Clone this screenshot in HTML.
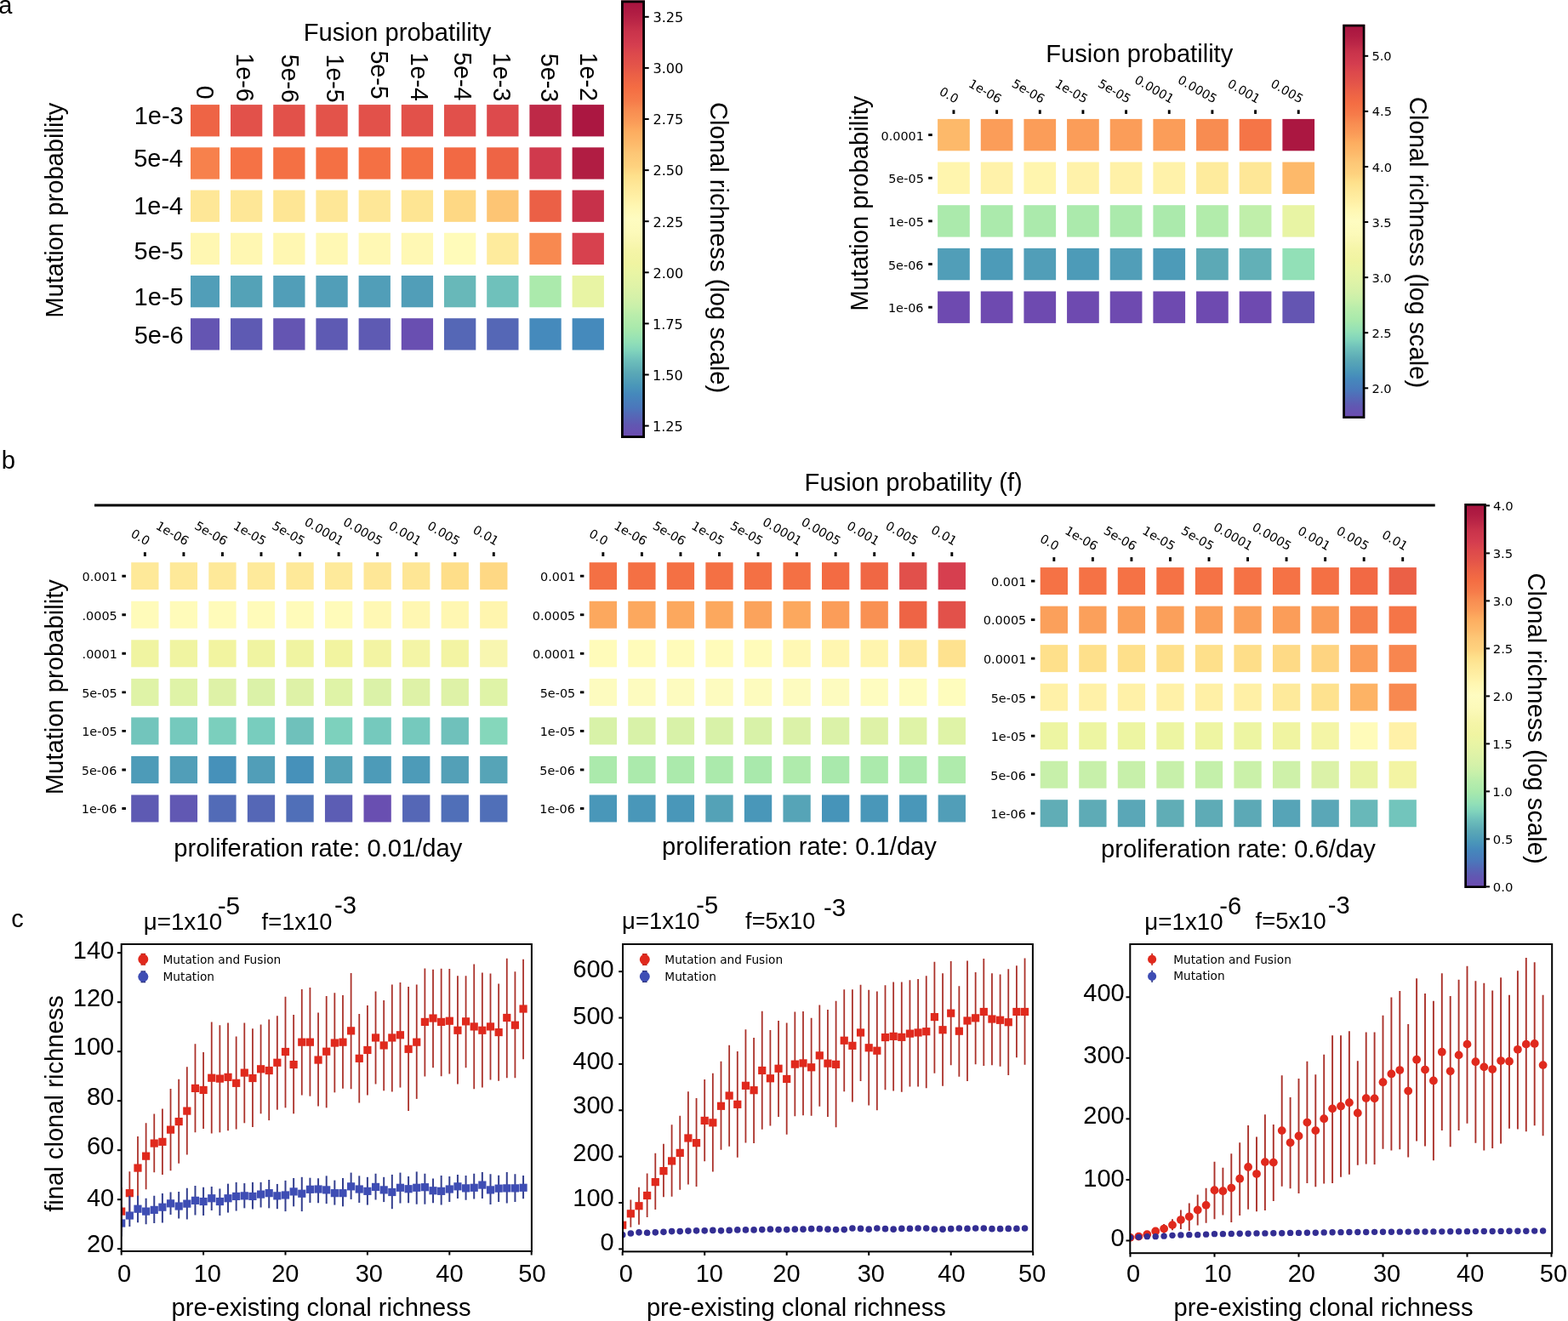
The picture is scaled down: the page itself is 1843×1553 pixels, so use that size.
<!DOCTYPE html>
<html><head><meta charset="utf-8"><title>Figure</title>
<style>html,body{margin:0;padding:0;background:#fff;}svg{display:block;}</style></head>
<body><svg width="1843" height="1553" viewBox="0 0 1843 1553"><defs><linearGradient id="cb" x1="0" y1="0" x2="0" y2="1"><stop offset="0" stop-color="#a6133f"/><stop offset="0.03" stop-color="#b11d43"/><stop offset="0.05" stop-color="#bc2747"/><stop offset="0.07" stop-color="#c9334b"/><stop offset="0.1" stop-color="#d43d4f"/><stop offset="0.12" stop-color="#dc484c"/><stop offset="0.15" stop-color="#e45549"/><stop offset="0.17" stop-color="#eb6046"/><stop offset="0.2" stop-color="#f46d43"/><stop offset="0.23" stop-color="#f67c4a"/><stop offset="0.25" stop-color="#f88c51"/><stop offset="0.28" stop-color="#fb9d59"/><stop offset="0.3" stop-color="#fdad60"/><stop offset="0.33" stop-color="#fdbb6c"/><stop offset="0.35" stop-color="#fdc776"/><stop offset="0.38" stop-color="#fed27f"/><stop offset="0.4" stop-color="#fee08b"/><stop offset="0.42" stop-color="#fee797"/><stop offset="0.45" stop-color="#fff0a6"/><stop offset="0.47" stop-color="#fff7b2"/><stop offset="0.5" stop-color="#fefcc1"/><stop offset="0.53" stop-color="#fcfaba"/><stop offset="0.55" stop-color="#f9f7b2"/><stop offset="0.57" stop-color="#f5f5a8"/><stop offset="0.6" stop-color="#f0f4a1"/><stop offset="0.62" stop-color="#eaf5a4"/><stop offset="0.65" stop-color="#e0f3a7"/><stop offset="0.68" stop-color="#d4f1a9"/><stop offset="0.7" stop-color="#c8f0aa"/><stop offset="0.72" stop-color="#b9edab"/><stop offset="0.75" stop-color="#a8e9ac"/><stop offset="0.78" stop-color="#92e0b7"/><stop offset="0.8" stop-color="#81d4bc"/><stop offset="0.82" stop-color="#6fc1bb"/><stop offset="0.85" stop-color="#5ba9b6"/><stop offset="0.88" stop-color="#4a97b9"/><stop offset="0.9" stop-color="#4588bc"/><stop offset="0.93" stop-color="#4b77bb"/><stop offset="0.95" stop-color="#5666b6"/><stop offset="0.97" stop-color="#6157b2"/><stop offset="1" stop-color="#6e4ab0"/></linearGradient><clipPath id="cl1"><rect x="97.2" y="600" width="2000" height="500"/></clipPath><clipPath id="p1"><rect x="142.7" y="1110" width="482.2" height="361"/></clipPath><clipPath id="p2"><rect x="732" y="1110" width="481.9" height="361.4"/></clipPath><clipPath id="p3"><rect x="1328.3" y="1110" width="495.9" height="363.2"/></clipPath></defs><rect width="1843" height="1553" fill="#fff"/>
<text x="-1.87" y="16" font-family="'Liberation Sans', Arial, sans-serif" font-size="29" fill="#000">a</text>
<text x="356.72" y="48.4" font-family="'Liberation Sans', Arial, sans-serif" font-size="29.2" fill="#000">Fusion probatility</text>
<rect x="224" y="123.1" width="34" height="37.3" fill="#ee6445"/>
<rect x="271" y="123.1" width="37.3" height="37.3" fill="#e2514a"/>
<rect x="321.2" y="123.1" width="37.3" height="37.3" fill="#e2514a"/>
<rect x="371.4" y="123.1" width="37.3" height="37.3" fill="#e3534a"/>
<rect x="421.6" y="123.1" width="37.3" height="37.3" fill="#e2514a"/>
<rect x="471.8" y="123.1" width="37.3" height="37.3" fill="#e2514a"/>
<rect x="522" y="123.1" width="37.3" height="37.3" fill="#e1504b"/>
<rect x="572.2" y="123.1" width="37.3" height="37.3" fill="#dd4a4c"/>
<rect x="622.4" y="123.1" width="37.3" height="37.3" fill="#be2947"/>
<rect x="672.6" y="123.1" width="37.3" height="37.3" fill="#ab1741"/>
<rect x="224" y="173.32" width="34" height="37.3" fill="#f7814c"/>
<rect x="271" y="173.32" width="37.3" height="37.3" fill="#f57245"/>
<rect x="321.2" y="173.32" width="37.3" height="37.3" fill="#f47044"/>
<rect x="371.4" y="173.32" width="37.3" height="37.3" fill="#f47044"/>
<rect x="421.6" y="173.32" width="37.3" height="37.3" fill="#f47044"/>
<rect x="471.8" y="173.32" width="37.3" height="37.3" fill="#f47044"/>
<rect x="522" y="173.32" width="37.3" height="37.3" fill="#f26944"/>
<rect x="572.2" y="173.32" width="37.3" height="37.3" fill="#ee6445"/>
<rect x="622.4" y="173.32" width="37.3" height="37.3" fill="#d03a4d"/>
<rect x="672.6" y="173.32" width="37.3" height="37.3" fill="#b11d43"/>
<rect x="224" y="223.54" width="34" height="37.3" fill="#fee797"/>
<rect x="271" y="223.54" width="37.3" height="37.3" fill="#fee797"/>
<rect x="321.2" y="223.54" width="37.3" height="37.3" fill="#fee695"/>
<rect x="371.4" y="223.54" width="37.3" height="37.3" fill="#fee797"/>
<rect x="421.6" y="223.54" width="37.3" height="37.3" fill="#fee797"/>
<rect x="471.8" y="223.54" width="37.3" height="37.3" fill="#fee593"/>
<rect x="522" y="223.54" width="37.3" height="37.3" fill="#fed884"/>
<rect x="572.2" y="223.54" width="37.3" height="37.3" fill="#fdc574"/>
<rect x="622.4" y="223.54" width="37.3" height="37.3" fill="#eb6046"/>
<rect x="672.6" y="223.54" width="37.3" height="37.3" fill="#c7314a"/>
<rect x="224" y="273.76" width="34" height="37.3" fill="#fff7b2"/>
<rect x="271" y="273.76" width="37.3" height="37.3" fill="#fff7b2"/>
<rect x="321.2" y="273.76" width="37.3" height="37.3" fill="#fff7b2"/>
<rect x="371.4" y="273.76" width="37.3" height="37.3" fill="#fff8b4"/>
<rect x="421.6" y="273.76" width="37.3" height="37.3" fill="#fff8b4"/>
<rect x="471.8" y="273.76" width="37.3" height="37.3" fill="#fff8b4"/>
<rect x="522" y="273.76" width="37.3" height="37.3" fill="#fffbba"/>
<rect x="572.2" y="273.76" width="37.3" height="37.3" fill="#feeb9d"/>
<rect x="622.4" y="273.76" width="37.3" height="37.3" fill="#f88950"/>
<rect x="672.6" y="273.76" width="37.3" height="37.3" fill="#d7414e"/>
<rect x="224" y="323.98" width="34" height="37.3" fill="#519eb8"/>
<rect x="271" y="323.98" width="37.3" height="37.3" fill="#54a2b7"/>
<rect x="321.2" y="323.98" width="37.3" height="37.3" fill="#519eb8"/>
<rect x="371.4" y="323.98" width="37.3" height="37.3" fill="#519eb8"/>
<rect x="421.6" y="323.98" width="37.3" height="37.3" fill="#519eb8"/>
<rect x="471.8" y="323.98" width="37.3" height="37.3" fill="#519eb8"/>
<rect x="522" y="323.98" width="37.3" height="37.3" fill="#68b8b9"/>
<rect x="572.2" y="323.98" width="37.3" height="37.3" fill="#6fc1bb"/>
<rect x="622.4" y="323.98" width="37.3" height="37.3" fill="#abeaac"/>
<rect x="672.6" y="323.98" width="37.3" height="37.3" fill="#e8f4a4"/>
<rect x="224" y="374.2" width="34" height="37.3" fill="#6455b2"/>
<rect x="271" y="374.2" width="37.3" height="37.3" fill="#5e5ab3"/>
<rect x="321.2" y="374.2" width="37.3" height="37.3" fill="#6455b2"/>
<rect x="371.4" y="374.2" width="37.3" height="37.3" fill="#5e5ab3"/>
<rect x="421.6" y="374.2" width="37.3" height="37.3" fill="#5e5ab3"/>
<rect x="471.8" y="374.2" width="37.3" height="37.3" fill="#694fb1"/>
<rect x="522" y="374.2" width="37.3" height="37.3" fill="#5567b6"/>
<rect x="572.2" y="374.2" width="37.3" height="37.3" fill="#5567b6"/>
<rect x="622.4" y="374.2" width="37.3" height="37.3" fill="#458abc"/>
<rect x="672.6" y="374.2" width="37.3" height="37.3" fill="#458abc"/>
<text x="157.65" y="145.88" font-family="'Liberation Sans', Arial, sans-serif" font-size="29" fill="#000">1e-3</text>
<text x="157.21" y="196.03" font-family="'Liberation Sans', Arial, sans-serif" font-size="29" fill="#000">5e-4</text>
<text x="157.21" y="251.53" font-family="'Liberation Sans', Arial, sans-serif" font-size="29" fill="#000">1e-4</text>
<text x="157.59" y="304.53" font-family="'Liberation Sans', Arial, sans-serif" font-size="29" fill="#000">5e-5</text>
<text x="157.59" y="358.63" font-family="'Liberation Sans', Arial, sans-serif" font-size="29" fill="#000">1e-5</text>
<text x="157.65" y="403.58" font-family="'Liberation Sans', Arial, sans-serif" font-size="29" fill="#000">5e-6</text>
<text x="230.51" y="100.65" font-family="'Liberation Sans', Arial, sans-serif" font-size="28.6" fill="#000" transform="rotate(90 230.51 100.65)">0</text>
<text x="277.96" y="62.43" font-family="'Liberation Sans', Arial, sans-serif" font-size="28.6" fill="#000" transform="rotate(90 277.96 62.43)">1e-6</text>
<text x="330.61" y="63.79" font-family="'Liberation Sans', Arial, sans-serif" font-size="28.6" fill="#000" transform="rotate(90 330.61 63.79)">5e-6</text>
<text x="383.65" y="63.5" font-family="'Liberation Sans', Arial, sans-serif" font-size="28.6" fill="#000" transform="rotate(90 383.65 63.5)">1e-5</text>
<text x="435.8" y="59.41" font-family="'Liberation Sans', Arial, sans-serif" font-size="28.6" fill="#000" transform="rotate(90 435.8 59.41)">5e-5</text>
<text x="482.75" y="61.66" font-family="'Liberation Sans', Arial, sans-serif" font-size="28.6" fill="#000" transform="rotate(90 482.75 61.66)">1e-4</text>
<text x="533.75" y="61.13" font-family="'Liberation Sans', Arial, sans-serif" font-size="28.6" fill="#000" transform="rotate(90 533.75 61.13)">5e-4</text>
<text x="580.26" y="61.88" font-family="'Liberation Sans', Arial, sans-serif" font-size="28.6" fill="#000" transform="rotate(90 580.26 61.88)">1e-3</text>
<text x="636.11" y="62.84" font-family="'Liberation Sans', Arial, sans-serif" font-size="28.6" fill="#000" transform="rotate(90 636.11 62.84)">5e-3</text>
<text x="682.21" y="61.71" font-family="'Liberation Sans', Arial, sans-serif" font-size="28.6" fill="#000" transform="rotate(90 682.21 61.71)">1e-2</text>
<text x="73.55" y="373.86" font-family="'Liberation Sans', Arial, sans-serif" font-size="29.2" fill="#000" transform="rotate(-90 73.55 373.86)">Mutation probability</text>
<rect x="730" y="0.5" width="28" height="514.5" fill="url(#cb)"/>
<rect x="731.4" y="1.9" width="25.2" height="511.7" fill="none" stroke="#000" stroke-width="2.8"/>
<line x1="758" y1="19.8" x2="762.7" y2="19.8" stroke="#000" stroke-width="2"/>
<text x="767.48" y="26.16" font-family="'DejaVu Sans', sans-serif" font-size="16.1" fill="#000">3.25</text>
<line x1="758" y1="79.9" x2="762.7" y2="79.9" stroke="#000" stroke-width="2"/>
<text x="767.48" y="86.26" font-family="'DejaVu Sans', sans-serif" font-size="16.1" fill="#000">3.00</text>
<line x1="758" y1="140" x2="762.7" y2="140" stroke="#000" stroke-width="2"/>
<text x="767.52" y="146.36" font-family="'DejaVu Sans', sans-serif" font-size="16.1" fill="#000">2.75</text>
<line x1="758" y1="200.1" x2="762.7" y2="200.1" stroke="#000" stroke-width="2"/>
<text x="767.52" y="206.46" font-family="'DejaVu Sans', sans-serif" font-size="16.1" fill="#000">2.50</text>
<line x1="758" y1="260.2" x2="762.7" y2="260.2" stroke="#000" stroke-width="2"/>
<text x="767.52" y="266.56" font-family="'DejaVu Sans', sans-serif" font-size="16.1" fill="#000">2.25</text>
<line x1="758" y1="320.3" x2="762.7" y2="320.3" stroke="#000" stroke-width="2"/>
<text x="767.52" y="326.66" font-family="'DejaVu Sans', sans-serif" font-size="16.1" fill="#000">2.00</text>
<line x1="758" y1="380.4" x2="762.7" y2="380.4" stroke="#000" stroke-width="2"/>
<text x="766.93" y="386.66" font-family="'DejaVu Sans', sans-serif" font-size="16.1" fill="#000">1.75</text>
<line x1="758" y1="440.5" x2="762.7" y2="440.5" stroke="#000" stroke-width="2"/>
<text x="766.93" y="446.86" font-family="'DejaVu Sans', sans-serif" font-size="16.1" fill="#000">1.50</text>
<line x1="758" y1="500.6" x2="762.7" y2="500.6" stroke="#000" stroke-width="2"/>
<text x="766.93" y="506.96" font-family="'DejaVu Sans', sans-serif" font-size="16.1" fill="#000">1.25</text>
<text x="834.5" y="120" font-family="'Liberation Sans', Arial, sans-serif" font-size="29.2" fill="#000" transform="rotate(90 834.5 120)">Clonal richness (log scale)</text>
<text x="1229.3" y="72.6" font-family="'Liberation Sans', Arial, sans-serif" font-size="29.1" fill="#000">Fusion probatility</text>
<text x="1019.65" y="365.71" font-family="'Liberation Sans', Arial, sans-serif" font-size="29.2" fill="#000" transform="rotate(-90 1019.65 365.71)">Mutation probability</text>
<rect x="1102.1" y="139.9" width="37.7" height="37.4" fill="#fdb96a"/>
<rect x="1152.76" y="139.9" width="37.7" height="37.4" fill="#fb9d59"/>
<rect x="1203.42" y="139.9" width="37.7" height="37.4" fill="#fb9d59"/>
<rect x="1254.08" y="139.9" width="37.7" height="37.4" fill="#fb9d59"/>
<rect x="1304.74" y="139.9" width="37.7" height="37.4" fill="#fb9d59"/>
<rect x="1355.4" y="139.9" width="37.7" height="37.4" fill="#fb9d59"/>
<rect x="1406.06" y="139.9" width="37.7" height="37.4" fill="#f88c51"/>
<rect x="1456.72" y="139.9" width="37.7" height="37.4" fill="#f57547"/>
<rect x="1507.38" y="139.9" width="37.7" height="37.4" fill="#ab1741"/>
<rect x="1102.1" y="190.55" width="37.7" height="37.4" fill="#fff5ae"/>
<rect x="1152.76" y="190.55" width="37.7" height="37.4" fill="#fff2aa"/>
<rect x="1203.42" y="190.55" width="37.7" height="37.4" fill="#fff5ae"/>
<rect x="1254.08" y="190.55" width="37.7" height="37.4" fill="#fff2aa"/>
<rect x="1304.74" y="190.55" width="37.7" height="37.4" fill="#fff1a8"/>
<rect x="1355.4" y="190.55" width="37.7" height="37.4" fill="#fff2aa"/>
<rect x="1406.06" y="190.55" width="37.7" height="37.4" fill="#feeb9d"/>
<rect x="1456.72" y="190.55" width="37.7" height="37.4" fill="#fee797"/>
<rect x="1507.38" y="190.55" width="37.7" height="37.4" fill="#fdb96a"/>
<rect x="1102.1" y="241.2" width="37.7" height="37.4" fill="#abeaac"/>
<rect x="1152.76" y="241.2" width="37.7" height="37.4" fill="#abeaac"/>
<rect x="1203.42" y="241.2" width="37.7" height="37.4" fill="#abeaac"/>
<rect x="1254.08" y="241.2" width="37.7" height="37.4" fill="#abeaac"/>
<rect x="1304.74" y="241.2" width="37.7" height="37.4" fill="#abeaac"/>
<rect x="1355.4" y="241.2" width="37.7" height="37.4" fill="#abeaac"/>
<rect x="1406.06" y="241.2" width="37.7" height="37.4" fill="#b2ecab"/>
<rect x="1456.72" y="241.2" width="37.7" height="37.4" fill="#c0efaa"/>
<rect x="1507.38" y="241.2" width="37.7" height="37.4" fill="#e8f4a4"/>
<rect x="1102.1" y="291.85" width="37.7" height="37.4" fill="#519eb8"/>
<rect x="1152.76" y="291.85" width="37.7" height="37.4" fill="#4d9bb8"/>
<rect x="1203.42" y="291.85" width="37.7" height="37.4" fill="#519eb8"/>
<rect x="1254.08" y="291.85" width="37.7" height="37.4" fill="#4d9bb8"/>
<rect x="1304.74" y="291.85" width="37.7" height="37.4" fill="#519eb8"/>
<rect x="1355.4" y="291.85" width="37.7" height="37.4" fill="#4d9bb8"/>
<rect x="1406.06" y="291.85" width="37.7" height="37.4" fill="#5ca9b6"/>
<rect x="1456.72" y="291.85" width="37.7" height="37.4" fill="#62b0b7"/>
<rect x="1507.38" y="291.85" width="37.7" height="37.4" fill="#92e0b7"/>
<rect x="1102.1" y="342.5" width="37.7" height="37.4" fill="#6e4ab0"/>
<rect x="1152.76" y="342.5" width="37.7" height="37.4" fill="#6e4ab0"/>
<rect x="1203.42" y="342.5" width="37.7" height="37.4" fill="#6e4ab0"/>
<rect x="1254.08" y="342.5" width="37.7" height="37.4" fill="#6e4ab0"/>
<rect x="1304.74" y="342.5" width="37.7" height="37.4" fill="#6e4ab0"/>
<rect x="1355.4" y="342.5" width="37.7" height="37.4" fill="#6e4ab0"/>
<rect x="1406.06" y="342.5" width="37.7" height="37.4" fill="#6e4ab0"/>
<rect x="1456.72" y="342.5" width="37.7" height="37.4" fill="#6e4ab0"/>
<rect x="1507.38" y="342.5" width="37.7" height="37.4" fill="#6455b2"/>
<line x1="1120.95" y1="129.3" x2="1120.95" y2="133.9" stroke="#000" stroke-width="2.9"/>
<text x="1122.85" y="121.9" font-family="'DejaVu Sans', sans-serif" font-size="14.4" fill="#000" text-anchor="end" transform="rotate(30 1122.85 121.9)">0.0</text>
<line x1="1171.61" y1="129.3" x2="1171.61" y2="133.9" stroke="#000" stroke-width="2.9"/>
<text x="1173.51" y="121.9" font-family="'DejaVu Sans', sans-serif" font-size="14.4" fill="#000" text-anchor="end" transform="rotate(30 1173.51 121.9)">1e-06</text>
<line x1="1222.27" y1="129.3" x2="1222.27" y2="133.9" stroke="#000" stroke-width="2.9"/>
<text x="1224.17" y="121.9" font-family="'DejaVu Sans', sans-serif" font-size="14.4" fill="#000" text-anchor="end" transform="rotate(30 1224.17 121.9)">5e-06</text>
<line x1="1272.93" y1="129.3" x2="1272.93" y2="133.9" stroke="#000" stroke-width="2.9"/>
<text x="1274.83" y="121.9" font-family="'DejaVu Sans', sans-serif" font-size="14.4" fill="#000" text-anchor="end" transform="rotate(30 1274.83 121.9)">1e-05</text>
<line x1="1323.59" y1="129.3" x2="1323.59" y2="133.9" stroke="#000" stroke-width="2.9"/>
<text x="1325.49" y="121.9" font-family="'DejaVu Sans', sans-serif" font-size="14.4" fill="#000" text-anchor="end" transform="rotate(30 1325.49 121.9)">5e-05</text>
<line x1="1374.25" y1="129.3" x2="1374.25" y2="133.9" stroke="#000" stroke-width="2.9"/>
<text x="1376.15" y="121.9" font-family="'DejaVu Sans', sans-serif" font-size="14.4" fill="#000" text-anchor="end" transform="rotate(30 1376.15 121.9)">0.0001</text>
<line x1="1424.91" y1="129.3" x2="1424.91" y2="133.9" stroke="#000" stroke-width="2.9"/>
<text x="1426.81" y="121.9" font-family="'DejaVu Sans', sans-serif" font-size="14.4" fill="#000" text-anchor="end" transform="rotate(30 1426.81 121.9)">0.0005</text>
<line x1="1475.57" y1="129.3" x2="1475.57" y2="133.9" stroke="#000" stroke-width="2.9"/>
<text x="1477.47" y="121.9" font-family="'DejaVu Sans', sans-serif" font-size="14.4" fill="#000" text-anchor="end" transform="rotate(30 1477.47 121.9)">0.001</text>
<line x1="1526.23" y1="129.3" x2="1526.23" y2="133.9" stroke="#000" stroke-width="2.9"/>
<text x="1528.13" y="121.9" font-family="'DejaVu Sans', sans-serif" font-size="14.4" fill="#000" text-anchor="end" transform="rotate(30 1528.13 121.9)">0.005</text>
<line x1="1091.2" y1="158.6" x2="1095.8" y2="158.6" stroke="#000" stroke-width="2.9"/>
<text x="1035.54" y="164.84" font-family="'DejaVu Sans', sans-serif" font-size="14.4" fill="#000">0.0001</text>
<line x1="1091.2" y1="209.25" x2="1095.8" y2="209.25" stroke="#000" stroke-width="2.9"/>
<text x="1044.31" y="215.49" font-family="'DejaVu Sans', sans-serif" font-size="14.4" fill="#000">5e-05</text>
<line x1="1091.2" y1="259.9" x2="1095.8" y2="259.9" stroke="#000" stroke-width="2.9"/>
<text x="1044.31" y="266.14" font-family="'DejaVu Sans', sans-serif" font-size="14.4" fill="#000">1e-05</text>
<line x1="1091.2" y1="310.55" x2="1095.8" y2="310.55" stroke="#000" stroke-width="2.9"/>
<text x="1043.96" y="316.79" font-family="'DejaVu Sans', sans-serif" font-size="14.4" fill="#000">5e-06</text>
<line x1="1091.2" y1="361.2" x2="1095.8" y2="361.2" stroke="#000" stroke-width="2.9"/>
<text x="1043.96" y="367.44" font-family="'DejaVu Sans', sans-serif" font-size="14.4" fill="#000">1e-06</text>
<rect x="1578.3" y="28.8" width="26" height="463.1" fill="url(#cb)"/>
<rect x="1579.6" y="30.1" width="23.4" height="460.5" fill="none" stroke="#000" stroke-width="2.6"/>
<line x1="1604" y1="65.8" x2="1608.2" y2="65.8" stroke="#000" stroke-width="2"/>
<text x="1612.38" y="71.41" font-family="'DejaVu Sans', sans-serif" font-size="14.6" fill="#000">5.0</text>
<line x1="1604" y1="130.88" x2="1608.2" y2="130.88" stroke="#000" stroke-width="2"/>
<text x="1612.78" y="136.4" font-family="'DejaVu Sans', sans-serif" font-size="14.6" fill="#000">4.5</text>
<line x1="1604" y1="195.97" x2="1608.2" y2="195.97" stroke="#000" stroke-width="2"/>
<text x="1612.78" y="201.58" font-family="'DejaVu Sans', sans-serif" font-size="14.6" fill="#000">4.0</text>
<line x1="1604" y1="261.06" x2="1608.2" y2="261.06" stroke="#000" stroke-width="2"/>
<text x="1612.39" y="266.67" font-family="'DejaVu Sans', sans-serif" font-size="14.6" fill="#000">3.5</text>
<line x1="1604" y1="326.14" x2="1608.2" y2="326.14" stroke="#000" stroke-width="2"/>
<text x="1612.39" y="331.75" font-family="'DejaVu Sans', sans-serif" font-size="14.6" fill="#000">3.0</text>
<line x1="1604" y1="391.22" x2="1608.2" y2="391.22" stroke="#000" stroke-width="2"/>
<text x="1612.43" y="396.84" font-family="'DejaVu Sans', sans-serif" font-size="14.6" fill="#000">2.5</text>
<line x1="1604" y1="456.31" x2="1608.2" y2="456.31" stroke="#000" stroke-width="2"/>
<text x="1612.43" y="461.92" font-family="'DejaVu Sans', sans-serif" font-size="14.6" fill="#000">2.0</text>
<text x="1656.95" y="113.85" font-family="'Liberation Sans', Arial, sans-serif" font-size="29.2" fill="#000" transform="rotate(90 1656.95 113.85)">Clonal richness (log scale)</text>
<text x="1.77" y="551.2" font-family="'Liberation Sans', Arial, sans-serif" font-size="29.3" fill="#000">b</text>
<text x="945.56" y="576.5" font-family="'Liberation Sans', Arial, sans-serif" font-size="29.2" fill="#000">Fusion probatility (f)</text>
<line x1="111" y1="594" x2="1686.7" y2="594" stroke="#000" stroke-width="3"/>
<rect x="154.2" y="661.2" width="32.3" height="32" fill="#fee999"/>
<rect x="199.75" y="661.2" width="32.3" height="32" fill="#fee999"/>
<rect x="245.3" y="661.2" width="32.3" height="32" fill="#fee999"/>
<rect x="290.85" y="661.2" width="32.3" height="32" fill="#feea9b"/>
<rect x="336.4" y="661.2" width="32.3" height="32" fill="#fee999"/>
<rect x="381.95" y="661.2" width="32.3" height="32" fill="#feea9b"/>
<rect x="427.5" y="661.2" width="32.3" height="32" fill="#fee797"/>
<rect x="473.05" y="661.2" width="32.3" height="32" fill="#fee695"/>
<rect x="518.6" y="661.2" width="32.3" height="32" fill="#fede89"/>
<rect x="564.15" y="661.2" width="32.3" height="32" fill="#fed884"/>
<rect x="154.2" y="706.75" width="32.3" height="32" fill="#fffbba"/>
<rect x="199.75" y="706.75" width="32.3" height="32" fill="#fffbba"/>
<rect x="245.3" y="706.75" width="32.3" height="32" fill="#fffbba"/>
<rect x="290.85" y="706.75" width="32.3" height="32" fill="#fffbba"/>
<rect x="336.4" y="706.75" width="32.3" height="32" fill="#fffbba"/>
<rect x="381.95" y="706.75" width="32.3" height="32" fill="#fffbba"/>
<rect x="427.5" y="706.75" width="32.3" height="32" fill="#fff8b4"/>
<rect x="473.05" y="706.75" width="32.3" height="32" fill="#fff7b2"/>
<rect x="518.6" y="706.75" width="32.3" height="32" fill="#fff7b2"/>
<rect x="564.15" y="706.75" width="32.3" height="32" fill="#fff5ae"/>
<rect x="154.2" y="752.3" width="32.3" height="32" fill="#f0f4a1"/>
<rect x="199.75" y="752.3" width="32.3" height="32" fill="#f0f4a1"/>
<rect x="245.3" y="752.3" width="32.3" height="32" fill="#f2f4a0"/>
<rect x="290.85" y="752.3" width="32.3" height="32" fill="#f0f4a1"/>
<rect x="336.4" y="752.3" width="32.3" height="32" fill="#f0f4a1"/>
<rect x="381.95" y="752.3" width="32.3" height="32" fill="#f2f4a0"/>
<rect x="427.5" y="752.3" width="32.3" height="32" fill="#f3f4a3"/>
<rect x="473.05" y="752.3" width="32.3" height="32" fill="#f4f5a6"/>
<rect x="518.6" y="752.3" width="32.3" height="32" fill="#f3f4a3"/>
<rect x="564.15" y="752.3" width="32.3" height="32" fill="#f8f6b0"/>
<rect x="154.2" y="797.85" width="32.3" height="32" fill="#dff3a7"/>
<rect x="199.75" y="797.85" width="32.3" height="32" fill="#dff3a7"/>
<rect x="245.3" y="797.85" width="32.3" height="32" fill="#def2a7"/>
<rect x="290.85" y="797.85" width="32.3" height="32" fill="#dbf2a8"/>
<rect x="336.4" y="797.85" width="32.3" height="32" fill="#def2a7"/>
<rect x="381.95" y="797.85" width="32.3" height="32" fill="#dff3a7"/>
<rect x="427.5" y="797.85" width="32.3" height="32" fill="#dbf2a8"/>
<rect x="473.05" y="797.85" width="32.3" height="32" fill="#def2a7"/>
<rect x="518.6" y="797.85" width="32.3" height="32" fill="#def2a7"/>
<rect x="564.15" y="797.85" width="32.3" height="32" fill="#dff3a7"/>
<rect x="154.2" y="843.4" width="32.3" height="32" fill="#72c5bc"/>
<rect x="199.75" y="843.4" width="32.3" height="32" fill="#75c9bd"/>
<rect x="245.3" y="843.4" width="32.3" height="32" fill="#7bcfbd"/>
<rect x="290.85" y="843.4" width="32.3" height="32" fill="#78cdbe"/>
<rect x="336.4" y="843.4" width="32.3" height="32" fill="#6fc1bb"/>
<rect x="381.95" y="843.4" width="32.3" height="32" fill="#7dd1bd"/>
<rect x="427.5" y="843.4" width="32.3" height="32" fill="#75c9bd"/>
<rect x="473.05" y="843.4" width="32.3" height="32" fill="#75c9bd"/>
<rect x="518.6" y="843.4" width="32.3" height="32" fill="#6fc1bb"/>
<rect x="564.15" y="843.4" width="32.3" height="32" fill="#85d7bb"/>
<rect x="154.2" y="888.95" width="32.3" height="32" fill="#4d9bb8"/>
<rect x="199.75" y="888.95" width="32.3" height="32" fill="#519eb8"/>
<rect x="245.3" y="888.95" width="32.3" height="32" fill="#4691ba"/>
<rect x="290.85" y="888.95" width="32.3" height="32" fill="#519eb8"/>
<rect x="336.4" y="888.95" width="32.3" height="32" fill="#4691ba"/>
<rect x="381.95" y="888.95" width="32.3" height="32" fill="#54a2b7"/>
<rect x="427.5" y="888.95" width="32.3" height="32" fill="#4d9bb8"/>
<rect x="473.05" y="888.95" width="32.3" height="32" fill="#4d9bb8"/>
<rect x="518.6" y="888.95" width="32.3" height="32" fill="#53a0b7"/>
<rect x="564.15" y="888.95" width="32.3" height="32" fill="#56a4b7"/>
<rect x="154.2" y="934.5" width="32.3" height="32" fill="#5e5ab3"/>
<rect x="199.75" y="934.5" width="32.3" height="32" fill="#6158b3"/>
<rect x="245.3" y="934.5" width="32.3" height="32" fill="#526bb7"/>
<rect x="290.85" y="934.5" width="32.3" height="32" fill="#5567b6"/>
<rect x="336.4" y="934.5" width="32.3" height="32" fill="#506fb8"/>
<rect x="381.95" y="934.5" width="32.3" height="32" fill="#5c5db4"/>
<rect x="427.5" y="934.5" width="32.3" height="32" fill="#694fb1"/>
<rect x="473.05" y="934.5" width="32.3" height="32" fill="#5567b6"/>
<rect x="518.6" y="934.5" width="32.3" height="32" fill="#506fb8"/>
<rect x="564.15" y="934.5" width="32.3" height="32" fill="#506fb8"/>
<line x1="170.35" y1="649.2" x2="170.35" y2="654" stroke="#000" stroke-width="2.9"/>
<text x="172.55" y="641.7" font-family="'DejaVu Sans', sans-serif" font-size="14.4" fill="#000" text-anchor="end" transform="rotate(30 172.55 641.7)">0.0</text>
<line x1="215.9" y1="649.2" x2="215.9" y2="654" stroke="#000" stroke-width="2.9"/>
<text x="218.1" y="641.7" font-family="'DejaVu Sans', sans-serif" font-size="14.4" fill="#000" text-anchor="end" transform="rotate(30 218.1 641.7)">1e-06</text>
<line x1="261.45" y1="649.2" x2="261.45" y2="654" stroke="#000" stroke-width="2.9"/>
<text x="263.65" y="641.7" font-family="'DejaVu Sans', sans-serif" font-size="14.4" fill="#000" text-anchor="end" transform="rotate(30 263.65 641.7)">5e-06</text>
<line x1="307" y1="649.2" x2="307" y2="654" stroke="#000" stroke-width="2.9"/>
<text x="309.2" y="641.7" font-family="'DejaVu Sans', sans-serif" font-size="14.4" fill="#000" text-anchor="end" transform="rotate(30 309.2 641.7)">1e-05</text>
<line x1="352.55" y1="649.2" x2="352.55" y2="654" stroke="#000" stroke-width="2.9"/>
<text x="354.75" y="641.7" font-family="'DejaVu Sans', sans-serif" font-size="14.4" fill="#000" text-anchor="end" transform="rotate(30 354.75 641.7)">5e-05</text>
<line x1="398.1" y1="649.2" x2="398.1" y2="654" stroke="#000" stroke-width="2.9"/>
<text x="400.3" y="641.7" font-family="'DejaVu Sans', sans-serif" font-size="14.4" fill="#000" text-anchor="end" transform="rotate(30 400.3 641.7)">0.0001</text>
<line x1="443.65" y1="649.2" x2="443.65" y2="654" stroke="#000" stroke-width="2.9"/>
<text x="445.85" y="641.7" font-family="'DejaVu Sans', sans-serif" font-size="14.4" fill="#000" text-anchor="end" transform="rotate(30 445.85 641.7)">0.0005</text>
<line x1="489.2" y1="649.2" x2="489.2" y2="654" stroke="#000" stroke-width="2.9"/>
<text x="491.4" y="641.7" font-family="'DejaVu Sans', sans-serif" font-size="14.4" fill="#000" text-anchor="end" transform="rotate(30 491.4 641.7)">0.001</text>
<line x1="534.75" y1="649.2" x2="534.75" y2="654" stroke="#000" stroke-width="2.9"/>
<text x="536.95" y="641.7" font-family="'DejaVu Sans', sans-serif" font-size="14.4" fill="#000" text-anchor="end" transform="rotate(30 536.95 641.7)">0.005</text>
<line x1="580.3" y1="649.2" x2="580.3" y2="654" stroke="#000" stroke-width="2.9"/>
<text x="582.5" y="641.7" font-family="'DejaVu Sans', sans-serif" font-size="14.4" fill="#000" text-anchor="end" transform="rotate(30 582.5 641.7)">0.01</text>
<g clip-path="url(#cl1)">
<line x1="143.4" y1="677.2" x2="147.9" y2="677.2" stroke="#000" stroke-width="2.9"/>
<text x="96.6" y="683.04" font-family="'DejaVu Sans', sans-serif" font-size="14.4" fill="#000">0.001</text>
<line x1="143.4" y1="722.75" x2="147.9" y2="722.75" stroke="#000" stroke-width="2.9"/>
<text x="87.37" y="728.59" font-family="'DejaVu Sans', sans-serif" font-size="14.4" fill="#000">0.0005</text>
<line x1="143.4" y1="768.3" x2="147.9" y2="768.3" stroke="#000" stroke-width="2.9"/>
<text x="87.44" y="774.14" font-family="'DejaVu Sans', sans-serif" font-size="14.4" fill="#000">0.0001</text>
<line x1="143.4" y1="813.85" x2="147.9" y2="813.85" stroke="#000" stroke-width="2.9"/>
<text x="96.21" y="819.69" font-family="'DejaVu Sans', sans-serif" font-size="14.4" fill="#000">5e-05</text>
<line x1="143.4" y1="859.4" x2="147.9" y2="859.4" stroke="#000" stroke-width="2.9"/>
<text x="96.21" y="865.24" font-family="'DejaVu Sans', sans-serif" font-size="14.4" fill="#000">1e-05</text>
<line x1="143.4" y1="904.95" x2="147.9" y2="904.95" stroke="#000" stroke-width="2.9"/>
<text x="95.86" y="910.79" font-family="'DejaVu Sans', sans-serif" font-size="14.4" fill="#000">5e-06</text>
<line x1="143.4" y1="950.5" x2="147.9" y2="950.5" stroke="#000" stroke-width="2.9"/>
<text x="95.86" y="956.34" font-family="'DejaVu Sans', sans-serif" font-size="14.4" fill="#000">1e-06</text>
</g>
<text x="204.27" y="1007.3" font-family="'Liberation Sans', Arial, sans-serif" font-size="29.2" fill="#000">proliferation rate: 0.01/day</text>
<rect x="692.7" y="661.2" width="32.3" height="32" fill="#f47044"/>
<rect x="738.25" y="661.2" width="32.3" height="32" fill="#f47044"/>
<rect x="783.8" y="661.2" width="32.3" height="32" fill="#f47044"/>
<rect x="829.35" y="661.2" width="32.3" height="32" fill="#f47044"/>
<rect x="874.9" y="661.2" width="32.3" height="32" fill="#f47044"/>
<rect x="920.45" y="661.2" width="32.3" height="32" fill="#f47044"/>
<rect x="966" y="661.2" width="32.3" height="32" fill="#f36b43"/>
<rect x="1011.55" y="661.2" width="32.3" height="32" fill="#f06744"/>
<rect x="1057.1" y="661.2" width="32.3" height="32" fill="#e1504b"/>
<rect x="1102.65" y="661.2" width="32.3" height="32" fill="#d63f4f"/>
<rect x="692.7" y="706.75" width="32.3" height="32" fill="#fca85e"/>
<rect x="738.25" y="706.75" width="32.3" height="32" fill="#fca85e"/>
<rect x="783.8" y="706.75" width="32.3" height="32" fill="#fca85e"/>
<rect x="829.35" y="706.75" width="32.3" height="32" fill="#fca85e"/>
<rect x="874.9" y="706.75" width="32.3" height="32" fill="#fba35c"/>
<rect x="920.45" y="706.75" width="32.3" height="32" fill="#fca85e"/>
<rect x="966" y="706.75" width="32.3" height="32" fill="#fb9d59"/>
<rect x="1011.55" y="706.75" width="32.3" height="32" fill="#f99153"/>
<rect x="1057.1" y="706.75" width="32.3" height="32" fill="#ee6445"/>
<rect x="1102.65" y="706.75" width="32.3" height="32" fill="#e2514a"/>
<rect x="692.7" y="752.3" width="32.3" height="32" fill="#fffbba"/>
<rect x="738.25" y="752.3" width="32.3" height="32" fill="#fffbba"/>
<rect x="783.8" y="752.3" width="32.3" height="32" fill="#fffbba"/>
<rect x="829.35" y="752.3" width="32.3" height="32" fill="#fffbba"/>
<rect x="874.9" y="752.3" width="32.3" height="32" fill="#fffbba"/>
<rect x="920.45" y="752.3" width="32.3" height="32" fill="#fff8b4"/>
<rect x="966" y="752.3" width="32.3" height="32" fill="#fff6b0"/>
<rect x="1011.55" y="752.3" width="32.3" height="32" fill="#fff5ae"/>
<rect x="1057.1" y="752.3" width="32.3" height="32" fill="#feea9b"/>
<rect x="1102.65" y="752.3" width="32.3" height="32" fill="#fee28f"/>
<rect x="692.7" y="797.85" width="32.3" height="32" fill="#fdfbbf"/>
<rect x="738.25" y="797.85" width="32.3" height="32" fill="#fdfbbf"/>
<rect x="783.8" y="797.85" width="32.3" height="32" fill="#fdfbbf"/>
<rect x="829.35" y="797.85" width="32.3" height="32" fill="#fdfbbf"/>
<rect x="874.9" y="797.85" width="32.3" height="32" fill="#fdfbbe"/>
<rect x="920.45" y="797.85" width="32.3" height="32" fill="#fdfbbf"/>
<rect x="966" y="797.85" width="32.3" height="32" fill="#fdfbbf"/>
<rect x="1011.55" y="797.85" width="32.3" height="32" fill="#fefcc0"/>
<rect x="1057.1" y="797.85" width="32.3" height="32" fill="#fefcbf"/>
<rect x="1102.65" y="797.85" width="32.3" height="32" fill="#fefcbd"/>
<rect x="692.7" y="843.4" width="32.3" height="32" fill="#d8f2a8"/>
<rect x="738.25" y="843.4" width="32.3" height="32" fill="#d8f2a8"/>
<rect x="783.8" y="843.4" width="32.3" height="32" fill="#d8f2a8"/>
<rect x="829.35" y="843.4" width="32.3" height="32" fill="#d8f2a8"/>
<rect x="874.9" y="843.4" width="32.3" height="32" fill="#d8f2a8"/>
<rect x="920.45" y="843.4" width="32.3" height="32" fill="#dbf2a8"/>
<rect x="966" y="843.4" width="32.3" height="32" fill="#dbf2a8"/>
<rect x="1011.55" y="843.4" width="32.3" height="32" fill="#def2a7"/>
<rect x="1057.1" y="843.4" width="32.3" height="32" fill="#dff3a7"/>
<rect x="1102.65" y="843.4" width="32.3" height="32" fill="#dff3a7"/>
<rect x="692.7" y="888.95" width="32.3" height="32" fill="#abeaac"/>
<rect x="738.25" y="888.95" width="32.3" height="32" fill="#abeaac"/>
<rect x="783.8" y="888.95" width="32.3" height="32" fill="#abeaac"/>
<rect x="829.35" y="888.95" width="32.3" height="32" fill="#abeaac"/>
<rect x="874.9" y="888.95" width="32.3" height="32" fill="#a9e9ac"/>
<rect x="920.45" y="888.95" width="32.3" height="32" fill="#afebac"/>
<rect x="966" y="888.95" width="32.3" height="32" fill="#a9e9ac"/>
<rect x="1011.55" y="888.95" width="32.3" height="32" fill="#abeaac"/>
<rect x="1057.1" y="888.95" width="32.3" height="32" fill="#abeaac"/>
<rect x="1102.65" y="888.95" width="32.3" height="32" fill="#afebac"/>
<rect x="692.7" y="934.5" width="32.3" height="32" fill="#4997b9"/>
<rect x="738.25" y="934.5" width="32.3" height="32" fill="#4997b9"/>
<rect x="783.8" y="934.5" width="32.3" height="32" fill="#4997b9"/>
<rect x="829.35" y="934.5" width="32.3" height="32" fill="#54a2b7"/>
<rect x="874.9" y="934.5" width="32.3" height="32" fill="#4997b9"/>
<rect x="920.45" y="934.5" width="32.3" height="32" fill="#56a4b7"/>
<rect x="966" y="934.5" width="32.3" height="32" fill="#4694b9"/>
<rect x="1011.55" y="934.5" width="32.3" height="32" fill="#4997b9"/>
<rect x="1057.1" y="934.5" width="32.3" height="32" fill="#4997b9"/>
<rect x="1102.65" y="934.5" width="32.3" height="32" fill="#519eb8"/>
<line x1="708.85" y1="649.2" x2="708.85" y2="654" stroke="#000" stroke-width="2.9"/>
<text x="711.05" y="641.7" font-family="'DejaVu Sans', sans-serif" font-size="14.4" fill="#000" text-anchor="end" transform="rotate(30 711.05 641.7)">0.0</text>
<line x1="754.4" y1="649.2" x2="754.4" y2="654" stroke="#000" stroke-width="2.9"/>
<text x="756.6" y="641.7" font-family="'DejaVu Sans', sans-serif" font-size="14.4" fill="#000" text-anchor="end" transform="rotate(30 756.6 641.7)">1e-06</text>
<line x1="799.95" y1="649.2" x2="799.95" y2="654" stroke="#000" stroke-width="2.9"/>
<text x="802.15" y="641.7" font-family="'DejaVu Sans', sans-serif" font-size="14.4" fill="#000" text-anchor="end" transform="rotate(30 802.15 641.7)">5e-06</text>
<line x1="845.5" y1="649.2" x2="845.5" y2="654" stroke="#000" stroke-width="2.9"/>
<text x="847.7" y="641.7" font-family="'DejaVu Sans', sans-serif" font-size="14.4" fill="#000" text-anchor="end" transform="rotate(30 847.7 641.7)">1e-05</text>
<line x1="891.05" y1="649.2" x2="891.05" y2="654" stroke="#000" stroke-width="2.9"/>
<text x="893.25" y="641.7" font-family="'DejaVu Sans', sans-serif" font-size="14.4" fill="#000" text-anchor="end" transform="rotate(30 893.25 641.7)">5e-05</text>
<line x1="936.6" y1="649.2" x2="936.6" y2="654" stroke="#000" stroke-width="2.9"/>
<text x="938.8" y="641.7" font-family="'DejaVu Sans', sans-serif" font-size="14.4" fill="#000" text-anchor="end" transform="rotate(30 938.8 641.7)">0.0001</text>
<line x1="982.15" y1="649.2" x2="982.15" y2="654" stroke="#000" stroke-width="2.9"/>
<text x="984.35" y="641.7" font-family="'DejaVu Sans', sans-serif" font-size="14.4" fill="#000" text-anchor="end" transform="rotate(30 984.35 641.7)">0.0005</text>
<line x1="1027.7" y1="649.2" x2="1027.7" y2="654" stroke="#000" stroke-width="2.9"/>
<text x="1029.9" y="641.7" font-family="'DejaVu Sans', sans-serif" font-size="14.4" fill="#000" text-anchor="end" transform="rotate(30 1029.9 641.7)">0.001</text>
<line x1="1073.25" y1="649.2" x2="1073.25" y2="654" stroke="#000" stroke-width="2.9"/>
<text x="1075.45" y="641.7" font-family="'DejaVu Sans', sans-serif" font-size="14.4" fill="#000" text-anchor="end" transform="rotate(30 1075.45 641.7)">0.005</text>
<line x1="1118.8" y1="649.2" x2="1118.8" y2="654" stroke="#000" stroke-width="2.9"/>
<text x="1121" y="641.7" font-family="'DejaVu Sans', sans-serif" font-size="14.4" fill="#000" text-anchor="end" transform="rotate(30 1121 641.7)">0.01</text>
<line x1="681.9" y1="677.2" x2="686.4" y2="677.2" stroke="#000" stroke-width="2.9"/>
<text x="635.1" y="683.04" font-family="'DejaVu Sans', sans-serif" font-size="14.4" fill="#000">0.001</text>
<line x1="681.9" y1="722.75" x2="686.4" y2="722.75" stroke="#000" stroke-width="2.9"/>
<text x="625.87" y="728.59" font-family="'DejaVu Sans', sans-serif" font-size="14.4" fill="#000">0.0005</text>
<line x1="681.9" y1="768.3" x2="686.4" y2="768.3" stroke="#000" stroke-width="2.9"/>
<text x="625.94" y="774.14" font-family="'DejaVu Sans', sans-serif" font-size="14.4" fill="#000">0.0001</text>
<line x1="681.9" y1="813.85" x2="686.4" y2="813.85" stroke="#000" stroke-width="2.9"/>
<text x="634.71" y="819.69" font-family="'DejaVu Sans', sans-serif" font-size="14.4" fill="#000">5e-05</text>
<line x1="681.9" y1="859.4" x2="686.4" y2="859.4" stroke="#000" stroke-width="2.9"/>
<text x="634.71" y="865.24" font-family="'DejaVu Sans', sans-serif" font-size="14.4" fill="#000">1e-05</text>
<line x1="681.9" y1="904.95" x2="686.4" y2="904.95" stroke="#000" stroke-width="2.9"/>
<text x="634.36" y="910.79" font-family="'DejaVu Sans', sans-serif" font-size="14.4" fill="#000">5e-06</text>
<line x1="681.9" y1="950.5" x2="686.4" y2="950.5" stroke="#000" stroke-width="2.9"/>
<text x="634.36" y="956.34" font-family="'DejaVu Sans', sans-serif" font-size="14.4" fill="#000">1e-06</text>
<text x="778.09" y="1005.2" font-family="'Liberation Sans', Arial, sans-serif" font-size="29.2" fill="#000">proliferation rate: 0.1/day</text>
<rect x="1222.7" y="667.1" width="32.3" height="32" fill="#f57245"/>
<rect x="1268.24" y="667.1" width="32.3" height="32" fill="#f57245"/>
<rect x="1313.78" y="667.1" width="32.3" height="32" fill="#f57245"/>
<rect x="1359.32" y="667.1" width="32.3" height="32" fill="#f57245"/>
<rect x="1404.86" y="667.1" width="32.3" height="32" fill="#f57245"/>
<rect x="1450.4" y="667.1" width="32.3" height="32" fill="#f57245"/>
<rect x="1495.94" y="667.1" width="32.3" height="32" fill="#f57245"/>
<rect x="1541.48" y="667.1" width="32.3" height="32" fill="#f47044"/>
<rect x="1587.02" y="667.1" width="32.3" height="32" fill="#f26944"/>
<rect x="1632.56" y="667.1" width="32.3" height="32" fill="#eb6046"/>
<rect x="1222.7" y="712.62" width="32.3" height="32" fill="#fba05b"/>
<rect x="1268.24" y="712.62" width="32.3" height="32" fill="#fba05b"/>
<rect x="1313.78" y="712.62" width="32.3" height="32" fill="#fba05b"/>
<rect x="1359.32" y="712.62" width="32.3" height="32" fill="#fba05b"/>
<rect x="1404.86" y="712.62" width="32.3" height="32" fill="#fba05b"/>
<rect x="1450.4" y="712.62" width="32.3" height="32" fill="#fba05b"/>
<rect x="1495.94" y="712.62" width="32.3" height="32" fill="#fb9d59"/>
<rect x="1541.48" y="712.62" width="32.3" height="32" fill="#fa9b58"/>
<rect x="1587.02" y="712.62" width="32.3" height="32" fill="#f67f4b"/>
<rect x="1632.56" y="712.62" width="32.3" height="32" fill="#f57547"/>
<rect x="1222.7" y="758.14" width="32.3" height="32" fill="#fee08b"/>
<rect x="1268.24" y="758.14" width="32.3" height="32" fill="#fee08b"/>
<rect x="1313.78" y="758.14" width="32.3" height="32" fill="#fee08b"/>
<rect x="1359.32" y="758.14" width="32.3" height="32" fill="#fee08b"/>
<rect x="1404.86" y="758.14" width="32.3" height="32" fill="#fee08b"/>
<rect x="1450.4" y="758.14" width="32.3" height="32" fill="#fede89"/>
<rect x="1495.94" y="758.14" width="32.3" height="32" fill="#feda86"/>
<rect x="1541.48" y="758.14" width="32.3" height="32" fill="#fed481"/>
<rect x="1587.02" y="758.14" width="32.3" height="32" fill="#fb9d59"/>
<rect x="1632.56" y="758.14" width="32.3" height="32" fill="#f8864f"/>
<rect x="1222.7" y="803.66" width="32.3" height="32" fill="#fff1a8"/>
<rect x="1268.24" y="803.66" width="32.3" height="32" fill="#fff1a8"/>
<rect x="1313.78" y="803.66" width="32.3" height="32" fill="#fff1a8"/>
<rect x="1359.32" y="803.66" width="32.3" height="32" fill="#fff1a8"/>
<rect x="1404.86" y="803.66" width="32.3" height="32" fill="#fff0a6"/>
<rect x="1450.4" y="803.66" width="32.3" height="32" fill="#fff0a6"/>
<rect x="1495.94" y="803.66" width="32.3" height="32" fill="#feea9b"/>
<rect x="1541.48" y="803.66" width="32.3" height="32" fill="#fee28f"/>
<rect x="1587.02" y="803.66" width="32.3" height="32" fill="#fdb365"/>
<rect x="1632.56" y="803.66" width="32.3" height="32" fill="#f88950"/>
<rect x="1222.7" y="849.18" width="32.3" height="32" fill="#edf5a2"/>
<rect x="1268.24" y="849.18" width="32.3" height="32" fill="#edf5a2"/>
<rect x="1313.78" y="849.18" width="32.3" height="32" fill="#edf5a2"/>
<rect x="1359.32" y="849.18" width="32.3" height="32" fill="#edf5a2"/>
<rect x="1404.86" y="849.18" width="32.3" height="32" fill="#eef5a2"/>
<rect x="1450.4" y="849.18" width="32.3" height="32" fill="#edf5a2"/>
<rect x="1495.94" y="849.18" width="32.3" height="32" fill="#f0f4a1"/>
<rect x="1541.48" y="849.18" width="32.3" height="32" fill="#f4f5a6"/>
<rect x="1587.02" y="849.18" width="32.3" height="32" fill="#fffbba"/>
<rect x="1632.56" y="849.18" width="32.3" height="32" fill="#fff1a8"/>
<rect x="1222.7" y="894.7" width="32.3" height="32" fill="#c7f0aa"/>
<rect x="1268.24" y="894.7" width="32.3" height="32" fill="#c7f0aa"/>
<rect x="1313.78" y="894.7" width="32.3" height="32" fill="#c7f0aa"/>
<rect x="1359.32" y="894.7" width="32.3" height="32" fill="#c7f0aa"/>
<rect x="1404.86" y="894.7" width="32.3" height="32" fill="#c4f0aa"/>
<rect x="1450.4" y="894.7" width="32.3" height="32" fill="#caf1a9"/>
<rect x="1495.94" y="894.7" width="32.3" height="32" fill="#cef1a9"/>
<rect x="1541.48" y="894.7" width="32.3" height="32" fill="#dbf2a8"/>
<rect x="1587.02" y="894.7" width="32.3" height="32" fill="#e8f4a4"/>
<rect x="1632.56" y="894.7" width="32.3" height="32" fill="#f3f4a3"/>
<rect x="1222.7" y="940.22" width="32.3" height="32" fill="#60adb6"/>
<rect x="1268.24" y="940.22" width="32.3" height="32" fill="#5eabb6"/>
<rect x="1313.78" y="940.22" width="32.3" height="32" fill="#5aa7b7"/>
<rect x="1359.32" y="940.22" width="32.3" height="32" fill="#60adb6"/>
<rect x="1404.86" y="940.22" width="32.3" height="32" fill="#5eabb6"/>
<rect x="1450.4" y="940.22" width="32.3" height="32" fill="#5ca9b6"/>
<rect x="1495.94" y="940.22" width="32.3" height="32" fill="#56a4b7"/>
<rect x="1541.48" y="940.22" width="32.3" height="32" fill="#5aa7b7"/>
<rect x="1587.02" y="940.22" width="32.3" height="32" fill="#68b8b9"/>
<rect x="1632.56" y="940.22" width="32.3" height="32" fill="#72c5bc"/>
<line x1="1238.85" y1="655.1" x2="1238.85" y2="659.9" stroke="#000" stroke-width="2.9"/>
<text x="1241.05" y="647.6" font-family="'DejaVu Sans', sans-serif" font-size="14.4" fill="#000" text-anchor="end" transform="rotate(30 1241.05 647.6)">0.0</text>
<line x1="1284.39" y1="655.1" x2="1284.39" y2="659.9" stroke="#000" stroke-width="2.9"/>
<text x="1286.59" y="647.6" font-family="'DejaVu Sans', sans-serif" font-size="14.4" fill="#000" text-anchor="end" transform="rotate(30 1286.59 647.6)">1e-06</text>
<line x1="1329.93" y1="655.1" x2="1329.93" y2="659.9" stroke="#000" stroke-width="2.9"/>
<text x="1332.13" y="647.6" font-family="'DejaVu Sans', sans-serif" font-size="14.4" fill="#000" text-anchor="end" transform="rotate(30 1332.13 647.6)">5e-06</text>
<line x1="1375.47" y1="655.1" x2="1375.47" y2="659.9" stroke="#000" stroke-width="2.9"/>
<text x="1377.67" y="647.6" font-family="'DejaVu Sans', sans-serif" font-size="14.4" fill="#000" text-anchor="end" transform="rotate(30 1377.67 647.6)">1e-05</text>
<line x1="1421.01" y1="655.1" x2="1421.01" y2="659.9" stroke="#000" stroke-width="2.9"/>
<text x="1423.21" y="647.6" font-family="'DejaVu Sans', sans-serif" font-size="14.4" fill="#000" text-anchor="end" transform="rotate(30 1423.21 647.6)">5e-05</text>
<line x1="1466.55" y1="655.1" x2="1466.55" y2="659.9" stroke="#000" stroke-width="2.9"/>
<text x="1468.75" y="647.6" font-family="'DejaVu Sans', sans-serif" font-size="14.4" fill="#000" text-anchor="end" transform="rotate(30 1468.75 647.6)">0.0001</text>
<line x1="1512.09" y1="655.1" x2="1512.09" y2="659.9" stroke="#000" stroke-width="2.9"/>
<text x="1514.29" y="647.6" font-family="'DejaVu Sans', sans-serif" font-size="14.4" fill="#000" text-anchor="end" transform="rotate(30 1514.29 647.6)">0.0005</text>
<line x1="1557.63" y1="655.1" x2="1557.63" y2="659.9" stroke="#000" stroke-width="2.9"/>
<text x="1559.83" y="647.6" font-family="'DejaVu Sans', sans-serif" font-size="14.4" fill="#000" text-anchor="end" transform="rotate(30 1559.83 647.6)">0.001</text>
<line x1="1603.17" y1="655.1" x2="1603.17" y2="659.9" stroke="#000" stroke-width="2.9"/>
<text x="1605.37" y="647.6" font-family="'DejaVu Sans', sans-serif" font-size="14.4" fill="#000" text-anchor="end" transform="rotate(30 1605.37 647.6)">0.005</text>
<line x1="1648.71" y1="655.1" x2="1648.71" y2="659.9" stroke="#000" stroke-width="2.9"/>
<text x="1650.91" y="647.6" font-family="'DejaVu Sans', sans-serif" font-size="14.4" fill="#000" text-anchor="end" transform="rotate(30 1650.91 647.6)">0.01</text>
<line x1="1211.9" y1="683.1" x2="1216.4" y2="683.1" stroke="#000" stroke-width="2.9"/>
<text x="1165.1" y="688.94" font-family="'DejaVu Sans', sans-serif" font-size="14.4" fill="#000">0.001</text>
<line x1="1211.9" y1="728.62" x2="1216.4" y2="728.62" stroke="#000" stroke-width="2.9"/>
<text x="1155.87" y="734.46" font-family="'DejaVu Sans', sans-serif" font-size="14.4" fill="#000">0.0005</text>
<line x1="1211.9" y1="774.14" x2="1216.4" y2="774.14" stroke="#000" stroke-width="2.9"/>
<text x="1155.94" y="779.98" font-family="'DejaVu Sans', sans-serif" font-size="14.4" fill="#000">0.0001</text>
<line x1="1211.9" y1="819.66" x2="1216.4" y2="819.66" stroke="#000" stroke-width="2.9"/>
<text x="1164.71" y="825.5" font-family="'DejaVu Sans', sans-serif" font-size="14.4" fill="#000">5e-05</text>
<line x1="1211.9" y1="865.18" x2="1216.4" y2="865.18" stroke="#000" stroke-width="2.9"/>
<text x="1164.71" y="871.02" font-family="'DejaVu Sans', sans-serif" font-size="14.4" fill="#000">1e-05</text>
<line x1="1211.9" y1="910.7" x2="1216.4" y2="910.7" stroke="#000" stroke-width="2.9"/>
<text x="1164.36" y="916.54" font-family="'DejaVu Sans', sans-serif" font-size="14.4" fill="#000">5e-06</text>
<line x1="1211.9" y1="956.22" x2="1216.4" y2="956.22" stroke="#000" stroke-width="2.9"/>
<text x="1164.36" y="962.06" font-family="'DejaVu Sans', sans-serif" font-size="14.4" fill="#000">1e-06</text>
<text x="1293.99" y="1007.5" font-family="'Liberation Sans', Arial, sans-serif" font-size="29.2" fill="#000">proliferation rate: 0.6/day</text>
<text x="73.55" y="934.26" font-family="'Liberation Sans', Arial, sans-serif" font-size="29.2" fill="#000" transform="rotate(-90 73.55 934.26)">Mutation probability</text>
<rect x="1721.4" y="592" width="25.3" height="452" fill="url(#cb)"/>
<rect x="1722.7" y="593.3" width="22.7" height="449.4" fill="none" stroke="#000" stroke-width="2.6"/>
<line x1="1746.5" y1="1042.4" x2="1751" y2="1042.4" stroke="#000" stroke-width="2"/>
<text x="1754.82" y="1048.09" font-family="'DejaVu Sans', sans-serif" font-size="14.8" fill="#000">0.0</text>
<line x1="1746.5" y1="986.4" x2="1751" y2="986.4" stroke="#000" stroke-width="2"/>
<text x="1754.82" y="992.09" font-family="'DejaVu Sans', sans-serif" font-size="14.8" fill="#000">0.5</text>
<line x1="1746.5" y1="930.4" x2="1751" y2="930.4" stroke="#000" stroke-width="2"/>
<text x="1754.17" y="936.09" font-family="'DejaVu Sans', sans-serif" font-size="14.8" fill="#000">1.0</text>
<line x1="1746.5" y1="874.4" x2="1751" y2="874.4" stroke="#000" stroke-width="2"/>
<text x="1754.17" y="879.99" font-family="'DejaVu Sans', sans-serif" font-size="14.8" fill="#000">1.5</text>
<line x1="1746.5" y1="818.4" x2="1751" y2="818.4" stroke="#000" stroke-width="2"/>
<text x="1754.72" y="824.09" font-family="'DejaVu Sans', sans-serif" font-size="14.8" fill="#000">2.0</text>
<line x1="1746.5" y1="762.4" x2="1751" y2="762.4" stroke="#000" stroke-width="2"/>
<text x="1754.72" y="768.09" font-family="'DejaVu Sans', sans-serif" font-size="14.8" fill="#000">2.5</text>
<line x1="1746.5" y1="706.4" x2="1751" y2="706.4" stroke="#000" stroke-width="2"/>
<text x="1754.68" y="712.09" font-family="'DejaVu Sans', sans-serif" font-size="14.8" fill="#000">3.0</text>
<line x1="1746.5" y1="650.4" x2="1751" y2="650.4" stroke="#000" stroke-width="2"/>
<text x="1754.68" y="656.09" font-family="'DejaVu Sans', sans-serif" font-size="14.8" fill="#000">3.5</text>
<line x1="1746.5" y1="594.4" x2="1751" y2="594.4" stroke="#000" stroke-width="2"/>
<text x="1755.07" y="600.09" font-family="'DejaVu Sans', sans-serif" font-size="14.8" fill="#000">4.0</text>
<text x="1795.5" y="673.4" font-family="'Liberation Sans', Arial, sans-serif" font-size="29.2" fill="#000" transform="rotate(90 1795.5 673.4)">Clonal richness (log scale)</text>
<text x="13.17" y="1090.1" font-family="'Liberation Sans', Arial, sans-serif" font-size="29" fill="#000">c</text>
<g clip-path="url(#p1)">
<line x1="142.7" y1="1395.99" x2="142.7" y2="1447.9" stroke="#ab322b" stroke-width="1.8"/>
<rect x="138.1" y="1419.52" width="9.2" height="9.2" fill="#e0291d"/>
<line x1="152.34" y1="1377.14" x2="152.34" y2="1428.18" stroke="#ab322b" stroke-width="1.8"/>
<rect x="147.74" y="1398.06" width="9.2" height="9.2" fill="#e0291d"/>
<line x1="161.98" y1="1335.96" x2="161.98" y2="1410.78" stroke="#ab322b" stroke-width="1.8"/>
<rect x="157.38" y="1368.48" width="9.2" height="9.2" fill="#e0291d"/>
<line x1="171.62" y1="1320.3" x2="171.62" y2="1398.31" stroke="#ab322b" stroke-width="1.8"/>
<rect x="167.02" y="1354.56" width="9.2" height="9.2" fill="#e0291d"/>
<line x1="181.26" y1="1309.57" x2="181.26" y2="1378.3" stroke="#ab322b" stroke-width="1.8"/>
<rect x="176.66" y="1339.48" width="9.2" height="9.2" fill="#e0291d"/>
<line x1="190.9" y1="1303.48" x2="190.9" y2="1380.91" stroke="#ab322b" stroke-width="1.8"/>
<rect x="186.3" y="1337.74" width="9.2" height="9.2" fill="#e0291d"/>
<line x1="200.54" y1="1279.99" x2="200.54" y2="1376.27" stroke="#ab322b" stroke-width="1.8"/>
<rect x="195.94" y="1323.53" width="9.2" height="9.2" fill="#e0291d"/>
<line x1="210.18" y1="1268.68" x2="210.18" y2="1367.86" stroke="#ab322b" stroke-width="1.8"/>
<rect x="205.58" y="1313.96" width="9.2" height="9.2" fill="#e0291d"/>
<line x1="219.82" y1="1254.18" x2="219.82" y2="1357.42" stroke="#ab322b" stroke-width="1.8"/>
<rect x="215.22" y="1301.49" width="9.2" height="9.2" fill="#e0291d"/>
<line x1="229.46" y1="1227.21" x2="229.46" y2="1331.32" stroke="#ab322b" stroke-width="1.8"/>
<rect x="224.86" y="1274.81" width="9.2" height="9.2" fill="#e0291d"/>
<line x1="239.1" y1="1237.07" x2="239.1" y2="1326.97" stroke="#ab322b" stroke-width="1.8"/>
<rect x="234.5" y="1276.84" width="9.2" height="9.2" fill="#e0291d"/>
<line x1="248.74" y1="1201.4" x2="248.74" y2="1332.48" stroke="#ab322b" stroke-width="1.8"/>
<rect x="244.14" y="1262.63" width="9.2" height="9.2" fill="#e0291d"/>
<line x1="258.38" y1="1205.17" x2="258.38" y2="1331.32" stroke="#ab322b" stroke-width="1.8"/>
<rect x="253.78" y="1263.5" width="9.2" height="9.2" fill="#e0291d"/>
<line x1="268.02" y1="1202.56" x2="268.02" y2="1329.29" stroke="#ab322b" stroke-width="1.8"/>
<rect x="263.42" y="1261.76" width="9.2" height="9.2" fill="#e0291d"/>
<line x1="277.66" y1="1218.51" x2="277.66" y2="1327.55" stroke="#ab322b" stroke-width="1.8"/>
<rect x="273.06" y="1268.72" width="9.2" height="9.2" fill="#e0291d"/>
<line x1="287.3" y1="1202.56" x2="287.3" y2="1320.3" stroke="#ab322b" stroke-width="1.8"/>
<rect x="282.7" y="1256.54" width="9.2" height="9.2" fill="#e0291d"/>
<line x1="296.94" y1="1209.23" x2="296.94" y2="1324.94" stroke="#ab322b" stroke-width="1.8"/>
<rect x="292.34" y="1262.92" width="9.2" height="9.2" fill="#e0291d"/>
<line x1="306.58" y1="1204.59" x2="306.58" y2="1309.28" stroke="#ab322b" stroke-width="1.8"/>
<rect x="301.98" y="1252.19" width="9.2" height="9.2" fill="#e0291d"/>
<line x1="316.22" y1="1198.5" x2="316.22" y2="1317.11" stroke="#ab322b" stroke-width="1.8"/>
<rect x="311.62" y="1253.93" width="9.2" height="9.2" fill="#e0291d"/>
<line x1="325.86" y1="1194.15" x2="325.86" y2="1304.64" stroke="#ab322b" stroke-width="1.8"/>
<rect x="321.26" y="1244.65" width="9.2" height="9.2" fill="#e0291d"/>
<line x1="335.5" y1="1171.82" x2="335.5" y2="1302.32" stroke="#ab322b" stroke-width="1.8"/>
<rect x="330.9" y="1231.89" width="9.2" height="9.2" fill="#e0291d"/>
<line x1="345.14" y1="1192.99" x2="345.14" y2="1309.28" stroke="#ab322b" stroke-width="1.8"/>
<rect x="340.54" y="1246.97" width="9.2" height="9.2" fill="#e0291d"/>
<line x1="354.78" y1="1163.12" x2="354.78" y2="1287.53" stroke="#ab322b" stroke-width="1.8"/>
<rect x="350.18" y="1220.58" width="9.2" height="9.2" fill="#e0291d"/>
<line x1="364.42" y1="1161.09" x2="364.42" y2="1288.69" stroke="#ab322b" stroke-width="1.8"/>
<rect x="359.82" y="1220.58" width="9.2" height="9.2" fill="#e0291d"/>
<line x1="374.06" y1="1190.38" x2="374.06" y2="1300.58" stroke="#ab322b" stroke-width="1.8"/>
<rect x="369.46" y="1241.46" width="9.2" height="9.2" fill="#e0291d"/>
<line x1="383.7" y1="1170.95" x2="383.7" y2="1302.32" stroke="#ab322b" stroke-width="1.8"/>
<rect x="379.1" y="1231.6" width="9.2" height="9.2" fill="#e0291d"/>
<line x1="393.34" y1="1167.18" x2="393.34" y2="1284.34" stroke="#ab322b" stroke-width="1.8"/>
<rect x="388.74" y="1221.45" width="9.2" height="9.2" fill="#e0291d"/>
<line x1="402.98" y1="1170.08" x2="402.98" y2="1279.7" stroke="#ab322b" stroke-width="1.8"/>
<rect x="398.38" y="1220.58" width="9.2" height="9.2" fill="#e0291d"/>
<line x1="412.62" y1="1143.98" x2="412.62" y2="1280.28" stroke="#ab322b" stroke-width="1.8"/>
<rect x="408.02" y="1207.24" width="9.2" height="9.2" fill="#e0291d"/>
<line x1="422.26" y1="1192.12" x2="422.26" y2="1296.52" stroke="#ab322b" stroke-width="1.8"/>
<rect x="417.66" y="1239.72" width="9.2" height="9.2" fill="#e0291d"/>
<line x1="431.9" y1="1181.97" x2="431.9" y2="1287.53" stroke="#ab322b" stroke-width="1.8"/>
<rect x="427.3" y="1229.86" width="9.2" height="9.2" fill="#e0291d"/>
<line x1="441.54" y1="1165.44" x2="441.54" y2="1274.48" stroke="#ab322b" stroke-width="1.8"/>
<rect x="436.94" y="1215.36" width="9.2" height="9.2" fill="#e0291d"/>
<line x1="451.18" y1="1175.88" x2="451.18" y2="1282.31" stroke="#ab322b" stroke-width="1.8"/>
<rect x="446.58" y="1224.35" width="9.2" height="9.2" fill="#e0291d"/>
<line x1="460.82" y1="1157.61" x2="460.82" y2="1283.47" stroke="#ab322b" stroke-width="1.8"/>
<rect x="456.22" y="1215.36" width="9.2" height="9.2" fill="#e0291d"/>
<line x1="470.46" y1="1155" x2="470.46" y2="1278.54" stroke="#ab322b" stroke-width="1.8"/>
<rect x="465.86" y="1212.17" width="9.2" height="9.2" fill="#e0291d"/>
<line x1="480.1" y1="1159.93" x2="480.1" y2="1306.09" stroke="#ab322b" stroke-width="1.8"/>
<rect x="475.5" y="1228.7" width="9.2" height="9.2" fill="#e0291d"/>
<line x1="489.74" y1="1157.61" x2="489.74" y2="1291.88" stroke="#ab322b" stroke-width="1.8"/>
<rect x="485.14" y="1220.58" width="9.2" height="9.2" fill="#e0291d"/>
<line x1="499.38" y1="1138.47" x2="499.38" y2="1265.49" stroke="#ab322b" stroke-width="1.8"/>
<rect x="494.78" y="1196.8" width="9.2" height="9.2" fill="#e0291d"/>
<line x1="509.02" y1="1139.63" x2="509.02" y2="1255.34" stroke="#ab322b" stroke-width="1.8"/>
<rect x="504.42" y="1192.45" width="9.2" height="9.2" fill="#e0291d"/>
<line x1="518.66" y1="1138.76" x2="518.66" y2="1265.2" stroke="#ab322b" stroke-width="1.8"/>
<rect x="514.06" y="1196.8" width="9.2" height="9.2" fill="#e0291d"/>
<line x1="528.3" y1="1139.05" x2="528.3" y2="1262.59" stroke="#ab322b" stroke-width="1.8"/>
<rect x="523.7" y="1195.64" width="9.2" height="9.2" fill="#e0291d"/>
<line x1="537.94" y1="1147.17" x2="537.94" y2="1274.48" stroke="#ab322b" stroke-width="1.8"/>
<rect x="533.34" y="1206.66" width="9.2" height="9.2" fill="#e0291d"/>
<line x1="547.58" y1="1147.17" x2="547.58" y2="1255.34" stroke="#ab322b" stroke-width="1.8"/>
<rect x="542.98" y="1196.22" width="9.2" height="9.2" fill="#e0291d"/>
<line x1="557.22" y1="1133.54" x2="557.22" y2="1280.28" stroke="#ab322b" stroke-width="1.8"/>
<rect x="552.62" y="1202.31" width="9.2" height="9.2" fill="#e0291d"/>
<line x1="566.86" y1="1143.4" x2="566.86" y2="1278.54" stroke="#ab322b" stroke-width="1.8"/>
<rect x="562.26" y="1206.66" width="9.2" height="9.2" fill="#e0291d"/>
<line x1="576.5" y1="1144.56" x2="576.5" y2="1269.55" stroke="#ab322b" stroke-width="1.8"/>
<rect x="571.9" y="1202.31" width="9.2" height="9.2" fill="#e0291d"/>
<line x1="586.14" y1="1156.45" x2="586.14" y2="1270.71" stroke="#ab322b" stroke-width="1.8"/>
<rect x="581.54" y="1208.98" width="9.2" height="9.2" fill="#e0291d"/>
<line x1="595.78" y1="1126.87" x2="595.78" y2="1267.23" stroke="#ab322b" stroke-width="1.8"/>
<rect x="591.18" y="1191.87" width="9.2" height="9.2" fill="#e0291d"/>
<line x1="605.42" y1="1142.24" x2="605.42" y2="1267.23" stroke="#ab322b" stroke-width="1.8"/>
<rect x="600.82" y="1200.57" width="9.2" height="9.2" fill="#e0291d"/>
<line x1="615.06" y1="1127.74" x2="615.06" y2="1245.19" stroke="#ab322b" stroke-width="1.8"/>
<rect x="610.46" y="1181.43" width="9.2" height="9.2" fill="#e0291d"/>
<line x1="142.7" y1="1418.03" x2="142.7" y2="1453.41" stroke="#343f8e" stroke-width="2"/>
<rect x="138.1" y="1433.44" width="9.2" height="9.2" fill="#3e4db4"/>
<line x1="152.34" y1="1405.85" x2="152.34" y2="1442.1" stroke="#343f8e" stroke-width="2"/>
<rect x="147.74" y="1424.45" width="9.2" height="9.2" fill="#3e4db4"/>
<line x1="161.98" y1="1405.85" x2="161.98" y2="1437.17" stroke="#343f8e" stroke-width="2"/>
<rect x="157.38" y="1416.62" width="9.2" height="9.2" fill="#3e4db4"/>
<line x1="171.62" y1="1408.75" x2="171.62" y2="1439.2" stroke="#343f8e" stroke-width="2"/>
<rect x="167.02" y="1419.52" width="9.2" height="9.2" fill="#3e4db4"/>
<line x1="181.26" y1="1405.85" x2="181.26" y2="1438.04" stroke="#343f8e" stroke-width="2"/>
<rect x="176.66" y="1417.78" width="9.2" height="9.2" fill="#3e4db4"/>
<line x1="190.9" y1="1402.95" x2="190.9" y2="1437.46" stroke="#343f8e" stroke-width="2"/>
<rect x="186.3" y="1414.59" width="9.2" height="9.2" fill="#3e4db4"/>
<line x1="200.54" y1="1401.5" x2="200.54" y2="1427.89" stroke="#343f8e" stroke-width="2"/>
<rect x="195.94" y="1410.24" width="9.2" height="9.2" fill="#3e4db4"/>
<line x1="210.18" y1="1400.92" x2="210.18" y2="1432.53" stroke="#343f8e" stroke-width="2"/>
<rect x="205.58" y="1413.43" width="9.2" height="9.2" fill="#3e4db4"/>
<line x1="219.82" y1="1396.86" x2="219.82" y2="1433.4" stroke="#343f8e" stroke-width="2"/>
<rect x="215.22" y="1410.53" width="9.2" height="9.2" fill="#3e4db4"/>
<line x1="229.46" y1="1393.96" x2="229.46" y2="1428.47" stroke="#343f8e" stroke-width="2"/>
<rect x="224.86" y="1406.76" width="9.2" height="9.2" fill="#3e4db4"/>
<line x1="239.1" y1="1395.7" x2="239.1" y2="1429.05" stroke="#343f8e" stroke-width="2"/>
<rect x="234.5" y="1407.92" width="9.2" height="9.2" fill="#3e4db4"/>
<line x1="248.74" y1="1395.12" x2="248.74" y2="1422.96" stroke="#343f8e" stroke-width="2"/>
<rect x="244.14" y="1404.15" width="9.2" height="9.2" fill="#3e4db4"/>
<line x1="258.38" y1="1397.44" x2="258.38" y2="1429.05" stroke="#343f8e" stroke-width="2"/>
<rect x="253.78" y="1407.92" width="9.2" height="9.2" fill="#3e4db4"/>
<line x1="268.02" y1="1391.64" x2="268.02" y2="1425.57" stroke="#343f8e" stroke-width="2"/>
<rect x="263.42" y="1404.15" width="9.2" height="9.2" fill="#3e4db4"/>
<line x1="277.66" y1="1389.9" x2="277.66" y2="1423.54" stroke="#343f8e" stroke-width="2"/>
<rect x="273.06" y="1401.83" width="9.2" height="9.2" fill="#3e4db4"/>
<line x1="287.3" y1="1391.06" x2="287.3" y2="1420.35" stroke="#343f8e" stroke-width="2"/>
<rect x="282.7" y="1401.25" width="9.2" height="9.2" fill="#3e4db4"/>
<line x1="296.94" y1="1389.9" x2="296.94" y2="1421.51" stroke="#343f8e" stroke-width="2"/>
<rect x="292.34" y="1401.83" width="9.2" height="9.2" fill="#3e4db4"/>
<line x1="306.58" y1="1389.9" x2="306.58" y2="1419.48" stroke="#343f8e" stroke-width="2"/>
<rect x="301.98" y="1399.51" width="9.2" height="9.2" fill="#3e4db4"/>
<line x1="316.22" y1="1387" x2="316.22" y2="1420.35" stroke="#343f8e" stroke-width="2"/>
<rect x="311.62" y="1398.06" width="9.2" height="9.2" fill="#3e4db4"/>
<line x1="325.86" y1="1391.93" x2="325.86" y2="1421.22" stroke="#343f8e" stroke-width="2"/>
<rect x="321.26" y="1401.25" width="9.2" height="9.2" fill="#3e4db4"/>
<line x1="335.5" y1="1387.87" x2="335.5" y2="1424.12" stroke="#343f8e" stroke-width="2"/>
<rect x="330.9" y="1400.38" width="9.2" height="9.2" fill="#3e4db4"/>
<line x1="345.14" y1="1384.97" x2="345.14" y2="1418.32" stroke="#343f8e" stroke-width="2"/>
<rect x="340.54" y="1396.32" width="9.2" height="9.2" fill="#3e4db4"/>
<line x1="354.78" y1="1383.81" x2="354.78" y2="1424.12" stroke="#343f8e" stroke-width="2"/>
<rect x="350.18" y="1398.64" width="9.2" height="9.2" fill="#3e4db4"/>
<line x1="364.42" y1="1384.68" x2="364.42" y2="1413.97" stroke="#343f8e" stroke-width="2"/>
<rect x="359.82" y="1393.71" width="9.2" height="9.2" fill="#3e4db4"/>
<line x1="374.06" y1="1385.26" x2="374.06" y2="1414.26" stroke="#343f8e" stroke-width="2"/>
<rect x="369.46" y="1393.42" width="9.2" height="9.2" fill="#3e4db4"/>
<line x1="383.7" y1="1382.36" x2="383.7" y2="1415.13" stroke="#343f8e" stroke-width="2"/>
<rect x="379.1" y="1394.29" width="9.2" height="9.2" fill="#3e4db4"/>
<line x1="393.34" y1="1387.58" x2="393.34" y2="1416.58" stroke="#343f8e" stroke-width="2"/>
<rect x="388.74" y="1398.06" width="9.2" height="9.2" fill="#3e4db4"/>
<line x1="402.98" y1="1384.97" x2="402.98" y2="1418.32" stroke="#343f8e" stroke-width="2"/>
<rect x="398.38" y="1398.06" width="9.2" height="9.2" fill="#3e4db4"/>
<line x1="412.62" y1="1378.59" x2="412.62" y2="1409.91" stroke="#343f8e" stroke-width="2"/>
<rect x="408.02" y="1390.23" width="9.2" height="9.2" fill="#3e4db4"/>
<line x1="422.26" y1="1382.36" x2="422.26" y2="1413.97" stroke="#343f8e" stroke-width="2"/>
<rect x="417.66" y="1393.42" width="9.2" height="9.2" fill="#3e4db4"/>
<line x1="431.9" y1="1383.81" x2="431.9" y2="1416.58" stroke="#343f8e" stroke-width="2"/>
<rect x="427.3" y="1395.74" width="9.2" height="9.2" fill="#3e4db4"/>
<line x1="441.54" y1="1379.75" x2="441.54" y2="1410.49" stroke="#343f8e" stroke-width="2"/>
<rect x="436.94" y="1390.81" width="9.2" height="9.2" fill="#3e4db4"/>
<line x1="451.18" y1="1383.81" x2="451.18" y2="1413.1" stroke="#343f8e" stroke-width="2"/>
<rect x="446.58" y="1394.29" width="9.2" height="9.2" fill="#3e4db4"/>
<line x1="460.82" y1="1380.91" x2="460.82" y2="1421.22" stroke="#343f8e" stroke-width="2"/>
<rect x="456.22" y="1396.9" width="9.2" height="9.2" fill="#3e4db4"/>
<line x1="470.46" y1="1378.59" x2="470.46" y2="1414.55" stroke="#343f8e" stroke-width="2"/>
<rect x="465.86" y="1391.68" width="9.2" height="9.2" fill="#3e4db4"/>
<line x1="480.1" y1="1382.94" x2="480.1" y2="1414.26" stroke="#343f8e" stroke-width="2"/>
<rect x="475.5" y="1393.13" width="9.2" height="9.2" fill="#3e4db4"/>
<line x1="489.74" y1="1377.43" x2="489.74" y2="1415.71" stroke="#343f8e" stroke-width="2"/>
<rect x="485.14" y="1391.68" width="9.2" height="9.2" fill="#3e4db4"/>
<line x1="499.38" y1="1379.75" x2="499.38" y2="1415.71" stroke="#343f8e" stroke-width="2"/>
<rect x="494.78" y="1391.1" width="9.2" height="9.2" fill="#3e4db4"/>
<line x1="509.02" y1="1385.55" x2="509.02" y2="1414.26" stroke="#343f8e" stroke-width="2"/>
<rect x="504.42" y="1395.16" width="9.2" height="9.2" fill="#3e4db4"/>
<line x1="518.66" y1="1382.07" x2="518.66" y2="1416.58" stroke="#343f8e" stroke-width="2"/>
<rect x="514.06" y="1395.74" width="9.2" height="9.2" fill="#3e4db4"/>
<line x1="528.3" y1="1382.94" x2="528.3" y2="1413.1" stroke="#343f8e" stroke-width="2"/>
<rect x="523.7" y="1393.42" width="9.2" height="9.2" fill="#3e4db4"/>
<line x1="537.94" y1="1380.91" x2="537.94" y2="1409.04" stroke="#343f8e" stroke-width="2"/>
<rect x="533.34" y="1390.23" width="9.2" height="9.2" fill="#3e4db4"/>
<line x1="547.58" y1="1382.07" x2="547.58" y2="1410.78" stroke="#343f8e" stroke-width="2"/>
<rect x="542.98" y="1392.26" width="9.2" height="9.2" fill="#3e4db4"/>
<line x1="557.22" y1="1379.75" x2="557.22" y2="1409.62" stroke="#343f8e" stroke-width="2"/>
<rect x="552.62" y="1391.68" width="9.2" height="9.2" fill="#3e4db4"/>
<line x1="566.86" y1="1378.01" x2="566.86" y2="1409.04" stroke="#343f8e" stroke-width="2"/>
<rect x="562.26" y="1388.49" width="9.2" height="9.2" fill="#3e4db4"/>
<line x1="576.5" y1="1380.33" x2="576.5" y2="1416" stroke="#343f8e" stroke-width="2"/>
<rect x="571.9" y="1394.29" width="9.2" height="9.2" fill="#3e4db4"/>
<line x1="586.14" y1="1381.78" x2="586.14" y2="1413.1" stroke="#343f8e" stroke-width="2"/>
<rect x="581.54" y="1392.55" width="9.2" height="9.2" fill="#3e4db4"/>
<line x1="595.78" y1="1378.01" x2="595.78" y2="1414.55" stroke="#343f8e" stroke-width="2"/>
<rect x="591.18" y="1392.26" width="9.2" height="9.2" fill="#3e4db4"/>
<line x1="605.42" y1="1380.33" x2="605.42" y2="1413.1" stroke="#343f8e" stroke-width="2"/>
<rect x="600.82" y="1392.26" width="9.2" height="9.2" fill="#3e4db4"/>
<line x1="615.06" y1="1382.07" x2="615.06" y2="1409.33" stroke="#343f8e" stroke-width="2"/>
<rect x="610.46" y="1391.68" width="9.2" height="9.2" fill="#3e4db4"/>
</g>
<rect x="142.7" y="1110" width="482.2" height="361" fill="none" stroke="#000" stroke-width="2"/>
<line x1="137.9" y1="1120.2" x2="142.7" y2="1120.2" stroke="#000" stroke-width="2"/>
<text x="85.86" y="1127.38" font-family="'Liberation Sans', Arial, sans-serif" font-size="29" fill="#000">140</text>
<line x1="137.9" y1="1178.2" x2="142.7" y2="1178.2" stroke="#000" stroke-width="2"/>
<text x="85.86" y="1182.68" font-family="'Liberation Sans', Arial, sans-serif" font-size="29" fill="#000">120</text>
<line x1="137.9" y1="1236.2" x2="142.7" y2="1236.2" stroke="#000" stroke-width="2"/>
<text x="85.86" y="1240.08" font-family="'Liberation Sans', Arial, sans-serif" font-size="29" fill="#000">100</text>
<line x1="137.9" y1="1294.2" x2="142.7" y2="1294.2" stroke="#000" stroke-width="2"/>
<text x="101.98" y="1299.28" font-family="'Liberation Sans', Arial, sans-serif" font-size="29" fill="#000">80</text>
<line x1="137.9" y1="1352.2" x2="142.7" y2="1352.2" stroke="#000" stroke-width="2"/>
<text x="101.98" y="1356.98" font-family="'Liberation Sans', Arial, sans-serif" font-size="29" fill="#000">60</text>
<line x1="137.9" y1="1410.2" x2="142.7" y2="1410.2" stroke="#000" stroke-width="2"/>
<text x="101.98" y="1418.08" font-family="'Liberation Sans', Arial, sans-serif" font-size="29" fill="#000">40</text>
<line x1="137.9" y1="1468.2" x2="142.7" y2="1468.2" stroke="#000" stroke-width="2"/>
<text x="101.98" y="1471.68" font-family="'Liberation Sans', Arial, sans-serif" font-size="29" fill="#000">20</text>
<line x1="142.7" y1="1471" x2="142.7" y2="1475.5" stroke="#000" stroke-width="2"/>
<text x="138.04" y="1507.38" font-family="'Liberation Sans', Arial, sans-serif" font-size="29" fill="#000">0</text>
<line x1="239.1" y1="1471" x2="239.1" y2="1475.5" stroke="#000" stroke-width="2"/>
<text x="227.74" y="1507.38" font-family="'Liberation Sans', Arial, sans-serif" font-size="29" fill="#000">10</text>
<line x1="335.5" y1="1471" x2="335.5" y2="1475.5" stroke="#000" stroke-width="2"/>
<text x="319.22" y="1507.38" font-family="'Liberation Sans', Arial, sans-serif" font-size="29" fill="#000">20</text>
<line x1="431.9" y1="1471" x2="431.9" y2="1475.5" stroke="#000" stroke-width="2"/>
<text x="417.69" y="1507.38" font-family="'Liberation Sans', Arial, sans-serif" font-size="29" fill="#000">30</text>
<line x1="528.3" y1="1471" x2="528.3" y2="1475.5" stroke="#000" stroke-width="2"/>
<text x="512.31" y="1507.38" font-family="'Liberation Sans', Arial, sans-serif" font-size="29" fill="#000">40</text>
<line x1="624.7" y1="1471" x2="624.7" y2="1475.5" stroke="#000" stroke-width="2"/>
<text x="609.26" y="1507.38" font-family="'Liberation Sans', Arial, sans-serif" font-size="29" fill="#000">50</text>
<rect x="165.5" y="1120.8" width="5.6" height="14" fill="#c42a1c"/>
<circle cx="168.3" cy="1127.8" r="6" fill="#e0291d"/>
<rect x="165.5" y="1141.3" width="5.6" height="14" fill="#2e3580"/>
<circle cx="168.3" cy="1148.3" r="6" fill="#3e4db4"/>
<text x="191.56" y="1133.1" font-family="'DejaVu Sans', sans-serif" font-size="13.7" fill="#000">Mutation and Fusion</text>
<text x="191.56" y="1152.9" font-family="'DejaVu Sans', sans-serif" font-size="13.7" fill="#000">Mutation</text>
<text x="201.5" y="1546.5" font-family="'Liberation Sans', Arial, sans-serif" font-size="29.2" fill="#000">pre-existing clonal richness</text>
<text x="74.34" y="1424.84" font-family="'Liberation Sans', Arial, sans-serif" font-size="29.2" fill="#000" transform="rotate(-90 74.34 1424.84)">final clonal richness</text>
<g clip-path="url(#p2)">
<line x1="731.7" y1="1430.45" x2="731.7" y2="1447.74" stroke="#ab322b" stroke-width="1.8"/>
<rect x="727.1" y="1435.64" width="9.2" height="9.2" fill="#e0291d"/>
<line x1="741.35" y1="1410.39" x2="741.35" y2="1442.68" stroke="#ab322b" stroke-width="1.8"/>
<rect x="736.75" y="1422.21" width="9.2" height="9.2" fill="#e0291d"/>
<line x1="751" y1="1395.71" x2="751" y2="1439.75" stroke="#ab322b" stroke-width="1.8"/>
<rect x="746.4" y="1413.13" width="9.2" height="9.2" fill="#e0291d"/>
<line x1="760.65" y1="1379.56" x2="760.65" y2="1430.94" stroke="#ab322b" stroke-width="1.8"/>
<rect x="756.05" y="1400.89" width="9.2" height="9.2" fill="#e0291d"/>
<line x1="770.3" y1="1355.85" x2="770.3" y2="1421.91" stroke="#ab322b" stroke-width="1.8"/>
<rect x="765.7" y="1385.02" width="9.2" height="9.2" fill="#e0291d"/>
<line x1="779.95" y1="1344.82" x2="779.95" y2="1407.23" stroke="#ab322b" stroke-width="1.8"/>
<rect x="775.35" y="1372.02" width="9.2" height="9.2" fill="#e0291d"/>
<line x1="789.6" y1="1322.31" x2="789.6" y2="1406.74" stroke="#ab322b" stroke-width="1.8"/>
<rect x="785" y="1360.28" width="9.2" height="9.2" fill="#e0291d"/>
<line x1="799.25" y1="1311.81" x2="799.25" y2="1398.64" stroke="#ab322b" stroke-width="1.8"/>
<rect x="794.65" y="1350.76" width="9.2" height="9.2" fill="#e0291d"/>
<line x1="808.9" y1="1283.16" x2="808.9" y2="1392.55" stroke="#ab322b" stroke-width="1.8"/>
<rect x="804.3" y="1333.37" width="9.2" height="9.2" fill="#e0291d"/>
<line x1="818.55" y1="1290.99" x2="818.55" y2="1395" stroke="#ab322b" stroke-width="1.8"/>
<rect x="813.95" y="1339.02" width="9.2" height="9.2" fill="#e0291d"/>
<line x1="828.2" y1="1268.97" x2="828.2" y2="1365.15" stroke="#ab322b" stroke-width="1.8"/>
<rect x="823.6" y="1312.81" width="9.2" height="9.2" fill="#e0291d"/>
<line x1="837.85" y1="1261.63" x2="837.85" y2="1377.38" stroke="#ab322b" stroke-width="1.8"/>
<rect x="833.25" y="1315.26" width="9.2" height="9.2" fill="#e0291d"/>
<line x1="847.5" y1="1247.71" x2="847.5" y2="1351.67" stroke="#ab322b" stroke-width="1.8"/>
<rect x="842.9" y="1295.69" width="9.2" height="9.2" fill="#e0291d"/>
<line x1="857.15" y1="1228.63" x2="857.15" y2="1347.75" stroke="#ab322b" stroke-width="1.8"/>
<rect x="852.55" y="1283.45" width="9.2" height="9.2" fill="#e0291d"/>
<line x1="866.8" y1="1235.97" x2="866.8" y2="1360.75" stroke="#ab322b" stroke-width="1.8"/>
<rect x="862.2" y="1293.73" width="9.2" height="9.2" fill="#e0291d"/>
<line x1="876.45" y1="1210.25" x2="876.45" y2="1343.62" stroke="#ab322b" stroke-width="1.8"/>
<rect x="871.85" y="1271.71" width="9.2" height="9.2" fill="#e0291d"/>
<line x1="886.1" y1="1220.04" x2="886.1" y2="1344.11" stroke="#ab322b" stroke-width="1.8"/>
<rect x="881.5" y="1277.09" width="9.2" height="9.2" fill="#e0291d"/>
<line x1="895.75" y1="1188.72" x2="895.75" y2="1327.69" stroke="#ab322b" stroke-width="1.8"/>
<rect x="891.15" y="1253.88" width="9.2" height="9.2" fill="#e0291d"/>
<line x1="905.4" y1="1211.01" x2="905.4" y2="1323.56" stroke="#ab322b" stroke-width="1.8"/>
<rect x="900.8" y="1263.17" width="9.2" height="9.2" fill="#e0291d"/>
<line x1="915.05" y1="1199.98" x2="915.05" y2="1313.01" stroke="#ab322b" stroke-width="1.8"/>
<rect x="910.45" y="1251.65" width="9.2" height="9.2" fill="#e0291d"/>
<line x1="924.7" y1="1202.42" x2="924.7" y2="1333.83" stroke="#ab322b" stroke-width="1.8"/>
<rect x="920.1" y="1263.88" width="9.2" height="9.2" fill="#e0291d"/>
<line x1="934.35" y1="1189.48" x2="934.35" y2="1312.3" stroke="#ab322b" stroke-width="1.8"/>
<rect x="929.75" y="1246.54" width="9.2" height="9.2" fill="#e0291d"/>
<line x1="944" y1="1188.99" x2="944" y2="1311.33" stroke="#ab322b" stroke-width="1.8"/>
<rect x="939.4" y="1245.29" width="9.2" height="9.2" fill="#e0291d"/>
<line x1="953.65" y1="1196.82" x2="953.65" y2="1311.81" stroke="#ab322b" stroke-width="1.8"/>
<rect x="949.05" y="1250.18" width="9.2" height="9.2" fill="#e0291d"/>
<line x1="963.3" y1="1181.38" x2="963.3" y2="1300.78" stroke="#ab322b" stroke-width="1.8"/>
<rect x="958.7" y="1236.26" width="9.2" height="9.2" fill="#e0291d"/>
<line x1="972.95" y1="1187.04" x2="972.95" y2="1313.01" stroke="#ab322b" stroke-width="1.8"/>
<rect x="968.35" y="1245.56" width="9.2" height="9.2" fill="#e0291d"/>
<line x1="982.6" y1="1176.76" x2="982.6" y2="1325.24" stroke="#ab322b" stroke-width="1.8"/>
<rect x="978" y="1246.75" width="9.2" height="9.2" fill="#e0291d"/>
<line x1="992.25" y1="1163.28" x2="992.25" y2="1283.16" stroke="#ab322b" stroke-width="1.8"/>
<rect x="987.65" y="1218.65" width="9.2" height="9.2" fill="#e0291d"/>
<line x1="1001.9" y1="1163.28" x2="1001.9" y2="1295.39" stroke="#ab322b" stroke-width="1.8"/>
<rect x="997.3" y="1224.74" width="9.2" height="9.2" fill="#e0291d"/>
<line x1="1011.55" y1="1157.68" x2="1011.55" y2="1270.93" stroke="#ab322b" stroke-width="1.8"/>
<rect x="1006.95" y="1209.35" width="9.2" height="9.2" fill="#e0291d"/>
<line x1="1021.2" y1="1163.76" x2="1021.2" y2="1299.58" stroke="#ab322b" stroke-width="1.8"/>
<rect x="1016.6" y="1227.18" width="9.2" height="9.2" fill="#e0291d"/>
<line x1="1030.85" y1="1165.5" x2="1030.85" y2="1305.18" stroke="#ab322b" stroke-width="1.8"/>
<rect x="1026.25" y="1230.61" width="9.2" height="9.2" fill="#e0291d"/>
<line x1="1040.5" y1="1158.16" x2="1040.5" y2="1281.2" stroke="#ab322b" stroke-width="1.8"/>
<rect x="1035.9" y="1214.95" width="9.2" height="9.2" fill="#e0291d"/>
<line x1="1050.15" y1="1154.47" x2="1050.15" y2="1282.45" stroke="#ab322b" stroke-width="1.8"/>
<rect x="1045.55" y="1213.75" width="9.2" height="9.2" fill="#e0291d"/>
<line x1="1059.8" y1="1154.47" x2="1059.8" y2="1283.65" stroke="#ab322b" stroke-width="1.8"/>
<rect x="1055.2" y="1214.73" width="9.2" height="9.2" fill="#e0291d"/>
<line x1="1069.45" y1="1152.29" x2="1069.45" y2="1277.56" stroke="#ab322b" stroke-width="1.8"/>
<rect x="1064.85" y="1210.54" width="9.2" height="9.2" fill="#e0291d"/>
<line x1="1079.1" y1="1151.04" x2="1079.1" y2="1277.56" stroke="#ab322b" stroke-width="1.8"/>
<rect x="1074.5" y="1209.35" width="9.2" height="9.2" fill="#e0291d"/>
<line x1="1088.75" y1="1147.13" x2="1088.75" y2="1279.25" stroke="#ab322b" stroke-width="1.8"/>
<rect x="1084.15" y="1208.1" width="9.2" height="9.2" fill="#e0291d"/>
<line x1="1098.4" y1="1130.76" x2="1098.4" y2="1261.63" stroke="#ab322b" stroke-width="1.8"/>
<rect x="1093.8" y="1190.97" width="9.2" height="9.2" fill="#e0291d"/>
<line x1="1108.05" y1="1144.19" x2="1108.05" y2="1276.8" stroke="#ab322b" stroke-width="1.8"/>
<rect x="1103.45" y="1206.14" width="9.2" height="9.2" fill="#e0291d"/>
<line x1="1117.7" y1="1130" x2="1117.7" y2="1252.33" stroke="#ab322b" stroke-width="1.8"/>
<rect x="1113.1" y="1186.57" width="9.2" height="9.2" fill="#e0291d"/>
<line x1="1127.35" y1="1159.36" x2="1127.35" y2="1265.82" stroke="#ab322b" stroke-width="1.8"/>
<rect x="1122.75" y="1207.61" width="9.2" height="9.2" fill="#e0291d"/>
<line x1="1137" y1="1129.51" x2="1137" y2="1270.93" stroke="#ab322b" stroke-width="1.8"/>
<rect x="1132.4" y="1195.38" width="9.2" height="9.2" fill="#e0291d"/>
<line x1="1146.65" y1="1143" x2="1146.65" y2="1251.14" stroke="#ab322b" stroke-width="1.8"/>
<rect x="1142.05" y="1192.22" width="9.2" height="9.2" fill="#e0291d"/>
<line x1="1156.3" y1="1127.07" x2="1156.3" y2="1253.09" stroke="#ab322b" stroke-width="1.8"/>
<rect x="1151.7" y="1184.88" width="9.2" height="9.2" fill="#e0291d"/>
<line x1="1165.95" y1="1144.19" x2="1165.95" y2="1252.33" stroke="#ab322b" stroke-width="1.8"/>
<rect x="1161.35" y="1193.42" width="9.2" height="9.2" fill="#e0291d"/>
<line x1="1175.6" y1="1145.44" x2="1175.6" y2="1253.8" stroke="#ab322b" stroke-width="1.8"/>
<rect x="1171" y="1194.67" width="9.2" height="9.2" fill="#e0291d"/>
<line x1="1185.25" y1="1139.3" x2="1185.25" y2="1264.08" stroke="#ab322b" stroke-width="1.8"/>
<rect x="1180.65" y="1197.12" width="9.2" height="9.2" fill="#e0291d"/>
<line x1="1194.9" y1="1135.17" x2="1194.9" y2="1243.31" stroke="#ab322b" stroke-width="1.8"/>
<rect x="1190.3" y="1184.88" width="9.2" height="9.2" fill="#e0291d"/>
<line x1="1204.55" y1="1126.58" x2="1204.55" y2="1251.84" stroke="#ab322b" stroke-width="1.8"/>
<rect x="1199.95" y="1184.88" width="9.2" height="9.2" fill="#e0291d"/>
<circle cx="731.7" cy="1451.76" r="3.8" fill="#332e93"/>
<circle cx="741.35" cy="1450.02" r="3.8" fill="#332e93"/>
<circle cx="751" cy="1448.83" r="3.8" fill="#332e93"/>
<circle cx="760.65" cy="1449.32" r="3.8" fill="#332e93"/>
<circle cx="770.3" cy="1448.83" r="3.8" fill="#332e93"/>
<circle cx="779.95" cy="1448.34" r="3.8" fill="#332e93"/>
<circle cx="789.6" cy="1447.58" r="3.8" fill="#332e93"/>
<circle cx="799.25" cy="1447.58" r="3.8" fill="#332e93"/>
<circle cx="808.9" cy="1447.09" r="3.8" fill="#332e93"/>
<circle cx="818.55" cy="1446.87" r="3.8" fill="#332e93"/>
<circle cx="828.2" cy="1446.87" r="3.8" fill="#332e93"/>
<circle cx="837.85" cy="1446.38" r="3.8" fill="#332e93"/>
<circle cx="847.5" cy="1446.87" r="3.8" fill="#332e93"/>
<circle cx="857.15" cy="1446.38" r="3.8" fill="#332e93"/>
<circle cx="866.8" cy="1445.89" r="3.8" fill="#332e93"/>
<circle cx="876.45" cy="1445.89" r="3.8" fill="#332e93"/>
<circle cx="886.1" cy="1445.89" r="3.8" fill="#332e93"/>
<circle cx="895.75" cy="1445.62" r="3.8" fill="#332e93"/>
<circle cx="905.4" cy="1445.13" r="3.8" fill="#332e93"/>
<circle cx="915.05" cy="1445.62" r="3.8" fill="#332e93"/>
<circle cx="924.7" cy="1445.62" r="3.8" fill="#332e93"/>
<circle cx="934.35" cy="1445.13" r="3.8" fill="#332e93"/>
<circle cx="944" cy="1445.13" r="3.8" fill="#332e93"/>
<circle cx="953.65" cy="1444.64" r="3.8" fill="#332e93"/>
<circle cx="963.3" cy="1444.64" r="3.8" fill="#332e93"/>
<circle cx="972.95" cy="1445.13" r="3.8" fill="#332e93"/>
<circle cx="982.6" cy="1445.62" r="3.8" fill="#332e93"/>
<circle cx="992.25" cy="1445.62" r="3.8" fill="#332e93"/>
<circle cx="1001.9" cy="1443.93" r="3.8" fill="#332e93"/>
<circle cx="1011.55" cy="1444.42" r="3.8" fill="#332e93"/>
<circle cx="1021.2" cy="1445.13" r="3.8" fill="#332e93"/>
<circle cx="1030.85" cy="1443.93" r="3.8" fill="#332e93"/>
<circle cx="1040.5" cy="1444.64" r="3.8" fill="#332e93"/>
<circle cx="1050.15" cy="1445.13" r="3.8" fill="#332e93"/>
<circle cx="1059.8" cy="1444.42" r="3.8" fill="#332e93"/>
<circle cx="1069.45" cy="1444.42" r="3.8" fill="#332e93"/>
<circle cx="1079.1" cy="1443.93" r="3.8" fill="#332e93"/>
<circle cx="1088.75" cy="1443.93" r="3.8" fill="#332e93"/>
<circle cx="1098.4" cy="1445.13" r="3.8" fill="#332e93"/>
<circle cx="1108.05" cy="1445.13" r="3.8" fill="#332e93"/>
<circle cx="1117.7" cy="1444.64" r="3.8" fill="#332e93"/>
<circle cx="1127.35" cy="1443.93" r="3.8" fill="#332e93"/>
<circle cx="1137" cy="1444.42" r="3.8" fill="#332e93"/>
<circle cx="1146.65" cy="1443.93" r="3.8" fill="#332e93"/>
<circle cx="1156.3" cy="1443.93" r="3.8" fill="#332e93"/>
<circle cx="1165.95" cy="1444.64" r="3.8" fill="#332e93"/>
<circle cx="1175.6" cy="1444.64" r="3.8" fill="#332e93"/>
<circle cx="1185.25" cy="1444.42" r="3.8" fill="#332e93"/>
<circle cx="1194.9" cy="1444.42" r="3.8" fill="#332e93"/>
<circle cx="1204.55" cy="1443.93" r="3.8" fill="#332e93"/>
</g>
<rect x="732" y="1110" width="481.9" height="361.4" fill="none" stroke="#000" stroke-width="2"/>
<line x1="727.2" y1="1142.18" x2="732" y2="1142.18" stroke="#000" stroke-width="2"/>
<text x="673.26" y="1148.58" font-family="'Liberation Sans', Arial, sans-serif" font-size="29" fill="#000">600</text>
<line x1="727.2" y1="1196.55" x2="732" y2="1196.55" stroke="#000" stroke-width="2"/>
<text x="673.26" y="1203.58" font-family="'Liberation Sans', Arial, sans-serif" font-size="29" fill="#000">500</text>
<line x1="727.2" y1="1250.92" x2="732" y2="1250.92" stroke="#000" stroke-width="2"/>
<text x="673.26" y="1256.98" font-family="'Liberation Sans', Arial, sans-serif" font-size="29" fill="#000">400</text>
<line x1="727.2" y1="1305.29" x2="732" y2="1305.29" stroke="#000" stroke-width="2"/>
<text x="673.26" y="1308.78" font-family="'Liberation Sans', Arial, sans-serif" font-size="29" fill="#000">300</text>
<line x1="727.2" y1="1359.66" x2="732" y2="1359.66" stroke="#000" stroke-width="2"/>
<text x="673.26" y="1364.78" font-family="'Liberation Sans', Arial, sans-serif" font-size="29" fill="#000">200</text>
<line x1="727.2" y1="1414.03" x2="732" y2="1414.03" stroke="#000" stroke-width="2"/>
<text x="673.26" y="1417.98" font-family="'Liberation Sans', Arial, sans-serif" font-size="29" fill="#000">100</text>
<line x1="727.2" y1="1468.4" x2="732" y2="1468.4" stroke="#000" stroke-width="2"/>
<text x="705.51" y="1470.48" font-family="'Liberation Sans', Arial, sans-serif" font-size="29" fill="#000">0</text>
<line x1="731.7" y1="1471.4" x2="731.7" y2="1475.9" stroke="#000" stroke-width="2"/>
<text x="727.74" y="1507.38" font-family="'Liberation Sans', Arial, sans-serif" font-size="29" fill="#000">0</text>
<line x1="828.2" y1="1471.4" x2="828.2" y2="1475.9" stroke="#000" stroke-width="2"/>
<text x="817.74" y="1507.38" font-family="'Liberation Sans', Arial, sans-serif" font-size="29" fill="#000">10</text>
<line x1="924.7" y1="1471.4" x2="924.7" y2="1475.9" stroke="#000" stroke-width="2"/>
<text x="908.32" y="1507.38" font-family="'Liberation Sans', Arial, sans-serif" font-size="29" fill="#000">20</text>
<line x1="1021.2" y1="1471.4" x2="1021.2" y2="1475.9" stroke="#000" stroke-width="2"/>
<text x="1007.69" y="1507.38" font-family="'Liberation Sans', Arial, sans-serif" font-size="29" fill="#000">30</text>
<line x1="1117.7" y1="1471.4" x2="1117.7" y2="1475.9" stroke="#000" stroke-width="2"/>
<text x="1102.31" y="1507.38" font-family="'Liberation Sans', Arial, sans-serif" font-size="29" fill="#000">40</text>
<line x1="1214.2" y1="1471.4" x2="1214.2" y2="1475.9" stroke="#000" stroke-width="2"/>
<text x="1197.06" y="1507.38" font-family="'Liberation Sans', Arial, sans-serif" font-size="29" fill="#000">50</text>
<rect x="755" y="1121" width="5.6" height="14" fill="#c42a1c"/>
<circle cx="757.8" cy="1128" r="6" fill="#e0291d"/>
<rect x="755" y="1141" width="5.6" height="14" fill="#2e3580"/>
<circle cx="757.8" cy="1148" r="6" fill="#3e4db4"/>
<text x="781.36" y="1133.3" font-family="'DejaVu Sans', sans-serif" font-size="13.7" fill="#000">Mutation and Fusion</text>
<text x="781.36" y="1152.6" font-family="'DejaVu Sans', sans-serif" font-size="13.7" fill="#000">Mutation</text>
<text x="759.9" y="1547" font-family="'Liberation Sans', Arial, sans-serif" font-size="29.2" fill="#000">pre-existing clonal richness</text>
<g clip-path="url(#p3)">
<line x1="1328.5" y1="1454.21" x2="1328.5" y2="1455.64" stroke="#ab322b" stroke-width="1.9"/>
<circle cx="1328.5" cy="1454.85" r="4.9" fill="#e0291d"/>
<line x1="1338.4" y1="1452.78" x2="1338.4" y2="1454.56" stroke="#ab322b" stroke-width="1.9"/>
<circle cx="1338.4" cy="1453.63" r="4.9" fill="#e0291d"/>
<line x1="1348.3" y1="1448.7" x2="1348.3" y2="1453.63" stroke="#ab322b" stroke-width="1.9"/>
<circle cx="1348.3" cy="1451.13" r="4.9" fill="#e0291d"/>
<line x1="1358.2" y1="1443.83" x2="1358.2" y2="1452.35" stroke="#ab322b" stroke-width="1.9"/>
<circle cx="1358.2" cy="1447.48" r="4.9" fill="#e0291d"/>
<line x1="1368.1" y1="1438.89" x2="1368.1" y2="1449.91" stroke="#ab322b" stroke-width="1.9"/>
<circle cx="1368.1" cy="1444.55" r="4.9" fill="#e0291d"/>
<line x1="1378" y1="1433.24" x2="1378" y2="1446.26" stroke="#ab322b" stroke-width="1.9"/>
<circle cx="1378" cy="1440.11" r="4.9" fill="#e0291d"/>
<line x1="1387.9" y1="1422.51" x2="1387.9" y2="1445.05" stroke="#ab322b" stroke-width="1.9"/>
<circle cx="1387.9" cy="1434.03" r="4.9" fill="#e0291d"/>
<line x1="1397.8" y1="1414.42" x2="1397.8" y2="1446.98" stroke="#ab322b" stroke-width="1.9"/>
<circle cx="1397.8" cy="1430.31" r="4.9" fill="#e0291d"/>
<line x1="1407.7" y1="1404.62" x2="1407.7" y2="1440.61" stroke="#ab322b" stroke-width="1.9"/>
<circle cx="1407.7" cy="1422.51" r="4.9" fill="#e0291d"/>
<line x1="1417.6" y1="1396.74" x2="1417.6" y2="1437.68" stroke="#ab322b" stroke-width="1.9"/>
<circle cx="1417.6" cy="1416.85" r="4.9" fill="#e0291d"/>
<line x1="1427.5" y1="1365.83" x2="1427.5" y2="1433.24" stroke="#ab322b" stroke-width="1.9"/>
<circle cx="1427.5" cy="1399.18" r="4.9" fill="#e0291d"/>
<line x1="1437.4" y1="1372.7" x2="1437.4" y2="1428.59" stroke="#ab322b" stroke-width="1.9"/>
<circle cx="1437.4" cy="1400.18" r="4.9" fill="#e0291d"/>
<line x1="1447.3" y1="1356.31" x2="1447.3" y2="1436.96" stroke="#ab322b" stroke-width="1.9"/>
<circle cx="1447.3" cy="1396.53" r="4.9" fill="#e0291d"/>
<line x1="1457.2" y1="1343.29" x2="1457.2" y2="1429.09" stroke="#ab322b" stroke-width="1.9"/>
<circle cx="1457.2" cy="1385.72" r="4.9" fill="#e0291d"/>
<line x1="1467.1" y1="1322.97" x2="1467.1" y2="1421.72" stroke="#ab322b" stroke-width="1.9"/>
<circle cx="1467.1" cy="1371.98" r="4.9" fill="#e0291d"/>
<line x1="1477" y1="1336.49" x2="1477" y2="1424.22" stroke="#ab322b" stroke-width="1.9"/>
<circle cx="1477" cy="1380.07" r="4.9" fill="#e0291d"/>
<line x1="1486.9" y1="1310.23" x2="1486.9" y2="1422.93" stroke="#ab322b" stroke-width="1.9"/>
<circle cx="1486.9" cy="1366.12" r="4.9" fill="#e0291d"/>
<line x1="1496.8" y1="1321.96" x2="1496.8" y2="1411.91" stroke="#ab322b" stroke-width="1.9"/>
<circle cx="1496.8" cy="1366.62" r="4.9" fill="#e0291d"/>
<line x1="1506.7" y1="1264.14" x2="1506.7" y2="1394.81" stroke="#ab322b" stroke-width="1.9"/>
<circle cx="1506.7" cy="1329.12" r="4.9" fill="#e0291d"/>
<line x1="1516.6" y1="1289.9" x2="1516.6" y2="1397.24" stroke="#ab322b" stroke-width="1.9"/>
<circle cx="1516.6" cy="1343.29" r="4.9" fill="#e0291d"/>
<line x1="1526.5" y1="1268.08" x2="1526.5" y2="1402.9" stroke="#ab322b" stroke-width="1.9"/>
<circle cx="1526.5" cy="1335.49" r="4.9" fill="#e0291d"/>
<line x1="1536.4" y1="1247.76" x2="1536.4" y2="1391.09" stroke="#ab322b" stroke-width="1.9"/>
<circle cx="1536.4" cy="1319.53" r="4.9" fill="#e0291d"/>
<line x1="1546.3" y1="1263.21" x2="1546.3" y2="1395.24" stroke="#ab322b" stroke-width="1.9"/>
<circle cx="1546.3" cy="1329.12" r="4.9" fill="#e0291d"/>
<line x1="1556.2" y1="1239.67" x2="1556.2" y2="1391.59" stroke="#ab322b" stroke-width="1.9"/>
<circle cx="1556.2" cy="1315.17" r="4.9" fill="#e0291d"/>
<line x1="1566.1" y1="1217.13" x2="1566.1" y2="1391.09" stroke="#ab322b" stroke-width="1.9"/>
<circle cx="1566.1" cy="1303.36" r="4.9" fill="#e0291d"/>
<line x1="1576" y1="1217.13" x2="1576" y2="1383.72" stroke="#ab322b" stroke-width="1.9"/>
<circle cx="1576" cy="1300.42" r="4.9" fill="#e0291d"/>
<line x1="1585.9" y1="1212.19" x2="1585.9" y2="1380.79" stroke="#ab322b" stroke-width="1.9"/>
<circle cx="1585.9" cy="1296.27" r="4.9" fill="#e0291d"/>
<line x1="1595.8" y1="1247.25" x2="1595.8" y2="1369.77" stroke="#ab322b" stroke-width="1.9"/>
<circle cx="1595.8" cy="1308.51" r="4.9" fill="#e0291d"/>
<line x1="1605.7" y1="1213.41" x2="1605.7" y2="1368.55" stroke="#ab322b" stroke-width="1.9"/>
<circle cx="1605.7" cy="1291.12" r="4.9" fill="#e0291d"/>
<line x1="1615.6" y1="1213.41" x2="1615.6" y2="1369.05" stroke="#ab322b" stroke-width="1.9"/>
<circle cx="1615.6" cy="1291.34" r="4.9" fill="#e0291d"/>
<line x1="1625.5" y1="1193.8" x2="1625.5" y2="1350.66" stroke="#ab322b" stroke-width="1.9"/>
<circle cx="1625.5" cy="1272.23" r="4.9" fill="#e0291d"/>
<line x1="1635.4" y1="1172.47" x2="1635.4" y2="1352.38" stroke="#ab322b" stroke-width="1.9"/>
<circle cx="1635.4" cy="1262.43" r="4.9" fill="#e0291d"/>
<line x1="1645.3" y1="1164.89" x2="1645.3" y2="1351.16" stroke="#ab322b" stroke-width="1.9"/>
<circle cx="1645.3" cy="1258.06" r="4.9" fill="#e0291d"/>
<line x1="1655.2" y1="1204.1" x2="1655.2" y2="1360.46" stroke="#ab322b" stroke-width="1.9"/>
<circle cx="1655.2" cy="1282.53" r="4.9" fill="#e0291d"/>
<line x1="1665.1" y1="1150.22" x2="1665.1" y2="1341.57" stroke="#ab322b" stroke-width="1.9"/>
<circle cx="1665.1" cy="1245.75" r="4.9" fill="#e0291d"/>
<line x1="1675" y1="1168.11" x2="1675" y2="1347.51" stroke="#ab322b" stroke-width="1.9"/>
<circle cx="1675" cy="1257.56" r="4.9" fill="#e0291d"/>
<line x1="1684.9" y1="1176.7" x2="1684.9" y2="1364.18" stroke="#ab322b" stroke-width="1.9"/>
<circle cx="1684.9" cy="1270.51" r="4.9" fill="#e0291d"/>
<line x1="1694.8" y1="1144.35" x2="1694.8" y2="1329.12" stroke="#ab322b" stroke-width="1.9"/>
<circle cx="1694.8" cy="1236.74" r="4.9" fill="#e0291d"/>
<line x1="1704.7" y1="1171.04" x2="1704.7" y2="1348.23" stroke="#ab322b" stroke-width="1.9"/>
<circle cx="1704.7" cy="1259.28" r="4.9" fill="#e0291d"/>
<line x1="1714.6" y1="1151.65" x2="1714.6" y2="1329.12" stroke="#ab322b" stroke-width="1.9"/>
<circle cx="1714.6" cy="1240.39" r="4.9" fill="#e0291d"/>
<line x1="1724.5" y1="1135.76" x2="1724.5" y2="1320.75" stroke="#ab322b" stroke-width="1.9"/>
<circle cx="1724.5" cy="1227.65" r="4.9" fill="#e0291d"/>
<line x1="1734.4" y1="1153.37" x2="1734.4" y2="1343.79" stroke="#ab322b" stroke-width="1.9"/>
<circle cx="1734.4" cy="1248.26" r="4.9" fill="#e0291d"/>
<line x1="1744.3" y1="1155.87" x2="1744.3" y2="1352.38" stroke="#ab322b" stroke-width="1.9"/>
<circle cx="1744.3" cy="1254.34" r="4.9" fill="#e0291d"/>
<line x1="1754.2" y1="1164.39" x2="1754.2" y2="1349.94" stroke="#ab322b" stroke-width="1.9"/>
<circle cx="1754.2" cy="1257.06" r="4.9" fill="#e0291d"/>
<line x1="1764.1" y1="1149.22" x2="1764.1" y2="1344.58" stroke="#ab322b" stroke-width="1.9"/>
<circle cx="1764.1" cy="1247.04" r="4.9" fill="#e0291d"/>
<line x1="1774" y1="1169.83" x2="1774" y2="1326.69" stroke="#ab322b" stroke-width="1.9"/>
<circle cx="1774" cy="1247.76" r="4.9" fill="#e0291d"/>
<line x1="1783.9" y1="1141.13" x2="1783.9" y2="1327.4" stroke="#ab322b" stroke-width="1.9"/>
<circle cx="1783.9" cy="1233.8" r="4.9" fill="#e0291d"/>
<line x1="1793.8" y1="1125.96" x2="1793.8" y2="1330.34" stroke="#ab322b" stroke-width="1.9"/>
<circle cx="1793.8" cy="1227.65" r="4.9" fill="#e0291d"/>
<line x1="1803.7" y1="1131.33" x2="1803.7" y2="1323.25" stroke="#ab322b" stroke-width="1.9"/>
<circle cx="1803.7" cy="1226.93" r="4.9" fill="#e0291d"/>
<line x1="1813.6" y1="1169.83" x2="1813.6" y2="1335.2" stroke="#ab322b" stroke-width="1.9"/>
<circle cx="1813.6" cy="1252.12" r="4.9" fill="#e0291d"/>
<circle cx="1328.5" cy="1454.85" r="3.7" fill="#332e93"/>
<circle cx="1338.4" cy="1454.35" r="3.7" fill="#332e93"/>
<circle cx="1348.3" cy="1453.63" r="3.7" fill="#332e93"/>
<circle cx="1358.2" cy="1453.63" r="3.7" fill="#332e93"/>
<circle cx="1368.1" cy="1453.13" r="3.7" fill="#332e93"/>
<circle cx="1378" cy="1452.35" r="3.7" fill="#332e93"/>
<circle cx="1387.9" cy="1451.92" r="3.7" fill="#332e93"/>
<circle cx="1397.8" cy="1451.63" r="3.7" fill="#332e93"/>
<circle cx="1407.7" cy="1451.63" r="3.7" fill="#332e93"/>
<circle cx="1417.6" cy="1451.13" r="3.7" fill="#332e93"/>
<circle cx="1427.5" cy="1450.63" r="3.7" fill="#332e93"/>
<circle cx="1437.4" cy="1450.63" r="3.7" fill="#332e93"/>
<circle cx="1447.3" cy="1450.41" r="3.7" fill="#332e93"/>
<circle cx="1457.2" cy="1450.2" r="3.7" fill="#332e93"/>
<circle cx="1467.1" cy="1450.2" r="3.7" fill="#332e93"/>
<circle cx="1477" cy="1449.91" r="3.7" fill="#332e93"/>
<circle cx="1486.9" cy="1449.91" r="3.7" fill="#332e93"/>
<circle cx="1496.8" cy="1449.7" r="3.7" fill="#332e93"/>
<circle cx="1506.7" cy="1449.7" r="3.7" fill="#332e93"/>
<circle cx="1516.6" cy="1449.41" r="3.7" fill="#332e93"/>
<circle cx="1526.5" cy="1449.41" r="3.7" fill="#332e93"/>
<circle cx="1536.4" cy="1449.2" r="3.7" fill="#332e93"/>
<circle cx="1546.3" cy="1449.2" r="3.7" fill="#332e93"/>
<circle cx="1556.2" cy="1448.91" r="3.7" fill="#332e93"/>
<circle cx="1566.1" cy="1448.7" r="3.7" fill="#332e93"/>
<circle cx="1576" cy="1448.63" r="3.7" fill="#332e93"/>
<circle cx="1585.9" cy="1448.56" r="3.7" fill="#332e93"/>
<circle cx="1595.8" cy="1448.5" r="3.7" fill="#332e93"/>
<circle cx="1605.7" cy="1448.43" r="3.7" fill="#332e93"/>
<circle cx="1615.6" cy="1448.37" r="3.7" fill="#332e93"/>
<circle cx="1625.5" cy="1448.3" r="3.7" fill="#332e93"/>
<circle cx="1635.4" cy="1448.24" r="3.7" fill="#332e93"/>
<circle cx="1645.3" cy="1448.17" r="3.7" fill="#332e93"/>
<circle cx="1655.2" cy="1448.1" r="3.7" fill="#332e93"/>
<circle cx="1665.1" cy="1448.04" r="3.7" fill="#332e93"/>
<circle cx="1675" cy="1447.97" r="3.7" fill="#332e93"/>
<circle cx="1684.9" cy="1447.91" r="3.7" fill="#332e93"/>
<circle cx="1694.8" cy="1447.84" r="3.7" fill="#332e93"/>
<circle cx="1704.7" cy="1447.77" r="3.7" fill="#332e93"/>
<circle cx="1714.6" cy="1447.71" r="3.7" fill="#332e93"/>
<circle cx="1724.5" cy="1447.64" r="3.7" fill="#332e93"/>
<circle cx="1734.4" cy="1447.58" r="3.7" fill="#332e93"/>
<circle cx="1744.3" cy="1447.51" r="3.7" fill="#332e93"/>
<circle cx="1754.2" cy="1447.45" r="3.7" fill="#332e93"/>
<circle cx="1764.1" cy="1447.38" r="3.7" fill="#332e93"/>
<circle cx="1774" cy="1447.31" r="3.7" fill="#332e93"/>
<circle cx="1783.9" cy="1447.25" r="3.7" fill="#332e93"/>
<circle cx="1793.8" cy="1447.18" r="3.7" fill="#332e93"/>
<circle cx="1803.7" cy="1447.12" r="3.7" fill="#332e93"/>
<circle cx="1813.6" cy="1447.05" r="3.7" fill="#332e93"/>
</g>
<rect x="1328.3" y="1110" width="495.9" height="363.2" fill="none" stroke="#000" stroke-width="2"/>
<line x1="1323.5" y1="1172.26" x2="1328.3" y2="1172.26" stroke="#000" stroke-width="2"/>
<text x="1273.36" y="1177.38" font-family="'Liberation Sans', Arial, sans-serif" font-size="29" fill="#000">400</text>
<line x1="1323.5" y1="1243.82" x2="1328.3" y2="1243.82" stroke="#000" stroke-width="2"/>
<text x="1273.36" y="1249.78" font-family="'Liberation Sans', Arial, sans-serif" font-size="29" fill="#000">300</text>
<line x1="1323.5" y1="1315.38" x2="1328.3" y2="1315.38" stroke="#000" stroke-width="2"/>
<text x="1273.36" y="1320.98" font-family="'Liberation Sans', Arial, sans-serif" font-size="29" fill="#000">200</text>
<line x1="1323.5" y1="1386.94" x2="1328.3" y2="1386.94" stroke="#000" stroke-width="2"/>
<text x="1273.36" y="1394.88" font-family="'Liberation Sans', Arial, sans-serif" font-size="29" fill="#000">100</text>
<line x1="1323.5" y1="1458.5" x2="1328.3" y2="1458.5" stroke="#000" stroke-width="2"/>
<text x="1305.61" y="1464.68" font-family="'Liberation Sans', Arial, sans-serif" font-size="29" fill="#000">0</text>
<line x1="1328.5" y1="1473.2" x2="1328.5" y2="1477.7" stroke="#000" stroke-width="2"/>
<text x="1323.94" y="1507.38" font-family="'Liberation Sans', Arial, sans-serif" font-size="29" fill="#000">0</text>
<line x1="1427.5" y1="1473.2" x2="1427.5" y2="1477.7" stroke="#000" stroke-width="2"/>
<text x="1415.34" y="1507.38" font-family="'Liberation Sans', Arial, sans-serif" font-size="29" fill="#000">10</text>
<line x1="1526.5" y1="1473.2" x2="1526.5" y2="1477.7" stroke="#000" stroke-width="2"/>
<text x="1513.72" y="1507.38" font-family="'Liberation Sans', Arial, sans-serif" font-size="29" fill="#000">20</text>
<line x1="1625.5" y1="1473.2" x2="1625.5" y2="1477.7" stroke="#000" stroke-width="2"/>
<text x="1613.89" y="1507.38" font-family="'Liberation Sans', Arial, sans-serif" font-size="29" fill="#000">30</text>
<line x1="1724.5" y1="1473.2" x2="1724.5" y2="1477.7" stroke="#000" stroke-width="2"/>
<text x="1712.11" y="1507.38" font-family="'Liberation Sans', Arial, sans-serif" font-size="29" fill="#000">40</text>
<line x1="1823.5" y1="1473.2" x2="1823.5" y2="1477.7" stroke="#000" stroke-width="2"/>
<text x="1809.86" y="1507.38" font-family="'Liberation Sans', Arial, sans-serif" font-size="29" fill="#000">50</text>
<rect x="1353.25" y="1120.8" width="1.7" height="14" fill="#c42a1c"/>
<circle cx="1354.1" cy="1127.8" r="5.1" fill="#e0291d"/>
<rect x="1353.25" y="1140.8" width="1.7" height="14" fill="#2e3580"/>
<circle cx="1354.1" cy="1147.8" r="5.1" fill="#3e4db4"/>
<text x="1379.16" y="1133.1" font-family="'DejaVu Sans', sans-serif" font-size="13.7" fill="#000">Mutation and Fusion</text>
<text x="1379.16" y="1152.4" font-family="'DejaVu Sans', sans-serif" font-size="13.7" fill="#000">Mutation</text>
<text x="1379.5" y="1546.5" font-family="'Liberation Sans', Arial, sans-serif" font-size="29.2" fill="#000">pre-existing clonal richness</text>
<text x="168.64" y="1093.1" font-family="'Liberation Sans', Arial, sans-serif" font-size="28.3" textLength="92.57" lengthAdjust="spacingAndGlyphs">μ=1x10</text>
<text x="255.69" y="1074.7" font-family="'Liberation Sans', Arial, sans-serif" font-size="29.4" textLength="26.46" lengthAdjust="spacingAndGlyphs">-5</text>
<text x="307.62" y="1093.1" font-family="'Liberation Sans', Arial, sans-serif" font-size="28.3" textLength="82.76" lengthAdjust="spacingAndGlyphs">f=1x10</text>
<text x="393.11" y="1074" font-family="'Liberation Sans', Arial, sans-serif" font-size="29.4" textLength="25.98" lengthAdjust="spacingAndGlyphs">-3</text>
<text x="731.06" y="1092.4" font-family="'Liberation Sans', Arial, sans-serif" font-size="28.3" textLength="91.53" lengthAdjust="spacingAndGlyphs">μ=1x10</text>
<text x="818.22" y="1073.9" font-family="'Liberation Sans', Arial, sans-serif" font-size="29.4" textLength="25.8" lengthAdjust="spacingAndGlyphs">-5</text>
<text x="876.12" y="1092.4" font-family="'Liberation Sans', Arial, sans-serif" font-size="28.3" textLength="82.25" lengthAdjust="spacingAndGlyphs">f=5x10</text>
<text x="967.91" y="1077.4" font-family="'Liberation Sans', Arial, sans-serif" font-size="29.4" textLength="26.09" lengthAdjust="spacingAndGlyphs">-3</text>
<text x="1345.34" y="1093.3" font-family="'Liberation Sans', Arial, sans-serif" font-size="28.3" textLength="92.26" lengthAdjust="spacingAndGlyphs">μ=1x10</text>
<text x="1433.22" y="1075.1" font-family="'Liberation Sans', Arial, sans-serif" font-size="29.4" textLength="25.86" lengthAdjust="spacingAndGlyphs">-6</text>
<text x="1475.62" y="1092.4" font-family="'Liberation Sans', Arial, sans-serif" font-size="28.3" textLength="83.06" lengthAdjust="spacingAndGlyphs">f=5x10</text>
<text x="1560.82" y="1074.3" font-family="'Liberation Sans', Arial, sans-serif" font-size="29.4" textLength="25.86" lengthAdjust="spacingAndGlyphs">-3</text>
</svg></body></html>
